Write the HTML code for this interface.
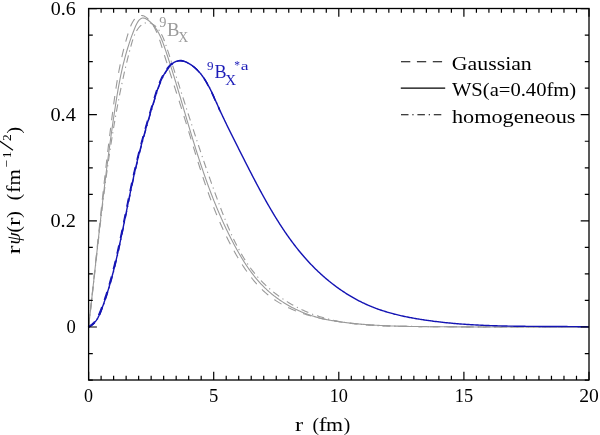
<!DOCTYPE html>
<html><head><meta charset="utf-8"><style>html,body{margin:0;padding:0;background:#fff;}svg{display:block;will-change:transform;}</style></head>
<body>
<svg width="600" height="435" viewBox="0 0 600 435">
<defs><clipPath id="cl" clipPathUnits="userSpaceOnUse"><rect x="80" y="0" width="140" height="335"/></clipPath></defs>
<rect width="600" height="435" fill="#fff"/>
<path d="M88.60,327.00 L88.71,326.01 L88.82,325.03 L88.93,324.04 L89.05,323.05 L89.16,322.07 L89.27,321.08 L89.38,320.09 L89.49,319.10 L89.60,318.12 L89.71,317.13 L89.82,316.14 L89.93,315.15 L90.04,314.16 L90.15,313.17 L90.26,312.19 L90.37,311.20 L90.49,310.21 L90.60,309.22 L90.71,308.23 L90.82,307.24 L90.93,306.25 L91.04,305.26 L91.15,304.27 L91.26,303.28 L91.36,302.28 L91.47,301.29 L91.58,300.30 L91.69,299.31 L91.80,298.32 L91.91,297.33 L92.02,296.34 L92.13,295.34 L92.24,294.35 L92.35,293.36 L92.46,292.37 L92.57,291.37 L92.68,290.38 L92.79,289.39 L92.90,288.39 L93.01,287.40 L93.12,286.41 L93.23,285.41 L93.33,284.42 L93.44,283.43 L93.55,282.43 L93.66,281.44 L93.77,280.44 L93.88,279.45 L93.99,278.46 L94.10,277.46 L94.21,276.47 L94.32,275.47 L94.43,274.48 L94.54,273.48 L94.65,272.49 L94.76,271.49 L94.86,270.50 L94.97,269.50 L95.08,268.51 L95.19,267.51 L95.30,266.52 L95.41,265.52 L95.52,264.52 L95.63,263.53 L95.74,262.53 L95.85,261.54 L95.96,260.54 L96.07,259.54 L96.18,258.55 L96.29,257.55 L96.40,256.56 L96.51,255.56 L96.62,254.56 L96.73,253.57 L96.84,252.57 L96.95,251.57 L97.06,250.58 L97.17,249.58 L97.28,248.58 L97.40,247.59 L97.51,246.59 L97.62,245.59 L97.73,244.59 L97.84,243.60 L97.95,242.60 L98.06,241.60 L98.17,240.61 L98.29,239.61 L98.40,238.61 L98.51,237.62 L98.62,236.62 L98.73,235.62 L98.85,234.62 L98.96,233.63 L99.07,232.63 L99.18,231.63 L99.30,230.63 L99.41,229.64 L99.52,228.64 L99.63,227.64 L99.75,226.65 L99.86,225.65 L99.97,224.65 L100.09,223.65 L100.20,222.66 L100.32,221.66 L100.43,220.66 L100.54,219.67 L100.66,218.67 L100.77,217.67 L100.89,216.67 L101.00,215.68 L101.12,214.68 L101.23,213.68 L101.35,212.69 L101.47,211.69 L101.58,210.69 L101.70,209.70 L101.81,208.70 L101.93,207.70 L102.05,206.71 L102.16,205.71 L102.28,204.71 L102.40,203.72 L102.51,202.72 L102.63,201.72 L102.75,200.73 L102.87,199.73 L102.99,198.74 L103.11,197.74 L103.22,196.74 L103.34,195.75 L103.46,194.75 L103.58,193.76 L103.70,192.76 L103.82,191.76 L103.94,190.77 L104.06,189.77 L104.18,188.78 L104.30,187.78 L104.42,186.79 L104.54,185.79 L104.67,184.80 L104.79,183.80 L104.91,182.81 L105.03,181.81 L105.15,180.82 L105.28,179.83 L105.40,178.83 L105.52,177.84 L105.65,176.84 L105.77,175.85 L105.90,174.86 L106.02,173.86 L106.14,172.87 L106.27,171.88 L106.40,170.88 L106.52,169.89 L106.65,168.90 L106.77,167.90 L106.90,166.91 L107.03,165.92 L107.15,164.93 L107.28,163.93 L107.41,162.94 L107.54,161.95 L107.66,160.96 L107.79,159.97 L107.92,158.98 L108.05,157.98 L108.18,156.99 L108.31,156.00 L108.44,155.01 L108.57,154.02 L108.70,153.03 L108.83,152.04 L108.96,151.05 L109.10,150.06 L109.23,149.07 L109.36,148.08 L109.49,147.09 L109.63,146.10 L109.76,145.12 L109.89,144.13 L110.03,143.14 L110.16,142.15 L110.30,141.16 L110.43,140.17 L110.57,139.19 L110.71,138.20 L110.84,137.21 L110.98,136.23 L111.12,135.24 L111.25,134.25 L111.39,133.27 L111.53,132.28 L111.67,131.29 L111.81,130.31 L111.95,129.32 L112.09,128.34 L112.23,127.35 L112.37,126.37 L112.51,125.39 L112.65,124.40 L112.79,123.42 L112.93,122.43 L113.08,121.45 L113.22,120.47 L113.36,119.48 L113.51,118.50 L113.65,117.52 L113.80,116.54 L113.94,115.56 L114.09,114.57 L114.23,113.59 L114.38,112.61 L114.53,111.63 L114.68,110.65 L114.82,109.67 L114.97,108.69 L115.12,107.71 L115.27,106.73 L115.42,105.75 L115.57,104.77 L115.72,103.80 L115.88,102.82 L116.03,101.84 L116.18,100.86 L116.34,99.88 L116.50,98.91 L116.65,97.93 L116.81,96.95 L116.97,95.97 L117.13,95.00 L117.30,94.02 L117.46,93.04 L117.63,92.07 L117.79,91.09 L117.96,90.11 L118.13,89.14 L118.31,88.16 L118.48,87.18 L118.66,86.21 L118.84,85.23 L119.02,84.25 L119.20,83.28 L119.38,82.30 L119.57,81.33 L119.76,80.35 L119.95,79.37 L120.15,78.40 L120.34,77.42 L120.54,76.44 L120.74,75.46 L120.95,74.49 L121.16,73.51 L121.37,72.53 L121.58,71.56 L121.79,70.58 L122.01,69.60 L122.23,68.62 L122.46,67.64 L122.69,66.67 L122.92,65.69 L123.15,64.71 L123.39,63.73 L123.63,62.75 L123.88,61.77 L124.12,60.79 L124.38,59.81 L124.63,58.83 L124.89,57.85 L125.15,56.87 L125.42,55.89 L125.69,54.90 L125.97,53.92 L126.25,52.94 L126.53,51.96 L126.82,50.97 L127.11,49.99 L127.40,49.01 L127.70,48.02 L128.01,47.04 L128.32,46.05 L128.63,45.07 L128.95,44.08 L129.27,43.09 L129.60,42.11 L129.93,41.12 L130.27,40.13 L130.61,39.14 L130.96,38.15 L131.31,37.16 L131.67,36.17 L132.03,35.18 L132.40,34.19 L132.78,33.20 L133.15,32.20 L133.54,31.21 L133.93,30.22 L134.32,29.22 L134.72,28.23 L135.13,27.24 L135.55,26.27 L135.98,25.32 L136.42,24.40 L136.87,23.51 L137.34,22.66 L137.82,21.87 L138.32,21.13 L138.84,20.45 L139.38,19.84 L139.95,19.30 L140.54,18.85 L141.15,18.49 L141.79,18.23 L142.46,18.07 L143.15,18.02 L143.88,18.09 L144.64,18.28 L145.43,18.58 L146.23,18.97 L147.04,19.45 L147.85,19.99 L148.65,20.60 L149.45,21.24 L150.22,21.92 L150.97,22.61 L151.69,23.33 L152.39,24.06 L153.07,24.81 L153.72,25.57 L154.35,26.35 L154.96,27.15 L155.54,27.96 L156.11,28.78 L156.66,29.62 L157.19,30.47 L157.71,31.34 L158.20,32.21 L158.68,33.10 L159.15,33.99 L159.60,34.90 L160.04,35.81 L160.46,36.73 L160.88,37.66 L161.28,38.60 L161.67,39.54 L162.05,40.49 L162.43,41.45 L162.79,42.41 L163.15,43.37 L163.50,44.34 L163.85,45.30 L164.19,46.28 L164.53,47.25 L164.86,48.22 L165.19,49.19 L165.52,50.16 L165.85,51.14 L166.18,52.11 L166.50,53.08 L166.82,54.05 L167.14,55.02 L167.47,55.99 L167.78,56.95 L168.10,57.92 L168.42,58.89 L168.73,59.85 L169.05,60.82 L169.36,61.78 L169.67,62.75 L169.98,63.71 L170.29,64.68 L170.59,65.64 L170.90,66.60 L171.21,67.56 L171.51,68.53 L171.81,69.49 L172.11,70.45 L172.41,71.41 L172.71,72.37 L173.01,73.33 L173.31,74.29 L173.61,75.25 L173.90,76.20 L174.20,77.16 L174.49,78.12 L174.79,79.08 L175.08,80.03 L175.37,80.99 L175.66,81.95 L175.95,82.90 L176.24,83.86 L176.53,84.81 L176.82,85.77 L177.11,86.72 L177.39,87.68 L177.68,88.63 L177.96,89.59 L178.25,90.54 L178.54,91.50 L178.82,92.45 L179.10,93.40 L179.39,94.35 L179.67,95.31 L179.95,96.26 L180.24,97.21 L180.52,98.17 L180.80,99.12 L181.08,100.07 L181.36,101.02 L181.64,101.97 L181.92,102.93 L182.21,103.88 L182.49,104.83 L182.77,105.78 L183.05,106.73 L183.33,107.68 L183.61,108.64 L183.89,109.59 L184.17,110.54 L184.45,111.49 L184.73,112.44 L185.01,113.39 L185.29,114.34 L185.57,115.30 L185.85,116.25 L186.14,117.20 L186.42,118.15 L186.70,119.10 L186.98,120.05 L187.26,121.01 L187.55,121.96 L187.83,122.91 L188.11,123.86 L188.40,124.82 L188.68,125.77 L188.97,126.72 L189.25,127.67 L189.54,128.63 L189.82,129.58 L190.11,130.53 L190.40,131.48 L190.68,132.44 L190.97,133.39 L191.26,134.34 L191.55,135.29 L191.84,136.25 L192.13,137.20 L192.42,138.15 L192.71,139.10 L193.01,140.05 L193.30,141.01 L193.59,141.96 L193.89,142.91 L194.18,143.86 L194.48,144.81 L194.77,145.77 L195.07,146.72 L195.37,147.67 L195.67,148.62 L195.97,149.57 L196.27,150.52 L196.57,151.47 L196.87,152.42 L197.18,153.37 L197.48,154.32 L197.78,155.27 L198.09,156.22 L198.40,157.17 L198.71,158.12 L199.01,159.07 L199.32,160.02 L199.63,160.97 L199.95,161.91 L200.26,162.86 L200.57,163.81 L200.89,164.76 L201.20,165.70 L201.52,166.65 L201.84,167.60 L202.16,168.54 L202.48,169.49 L202.80,170.43 L203.13,171.38 L203.45,172.32 L203.78,173.27 L204.10,174.21 L204.43,175.15 L204.76,176.10 L205.09,177.04 L205.42,177.98 L205.76,178.92 L206.09,179.87 L206.43,180.81 L206.77,181.75 L207.10,182.69 L207.44,183.63 L207.79,184.56 L208.13,185.50 L208.47,186.44 L208.82,187.38 L209.17,188.32 L209.52,189.25 L209.87,190.19 L210.22,191.12 L210.58,192.06 L210.93,192.99 L211.29,193.93 L211.65,194.86 L212.01,195.79 L212.37,196.72 L212.73,197.65 L213.10,198.59 L213.47,199.52 L213.83,200.45 L214.21,201.37 L214.58,202.30 L214.95,203.23 L215.33,204.16 L215.71,205.08 L216.09,206.01 L216.47,206.93 L216.85,207.86 L217.24,208.78 L217.62,209.70 L218.01,210.62 L218.40,211.55 L218.80,212.47 L219.19,213.39 L219.59,214.31 L219.99,215.22 L220.39,216.14 L220.79,217.06 L221.20,217.97 L221.60,218.89 L222.01,219.80 L222.42,220.72 L222.84,221.63 L223.25,222.54 L223.67,223.45 L224.09,224.36 L224.51,225.27 L224.93,226.18 L225.36,227.09 L225.79,227.99 L226.22,228.90 L226.65,229.80 L227.09,230.71 L227.53,231.61 L227.97,232.51 L228.41,233.41 L228.85,234.31 L229.30,235.21 L229.75,236.11 L230.20,237.01 L230.66,237.90 L231.11,238.80 L231.57,239.69 L232.03,240.59 L232.50,241.48 L232.96,242.37 L233.43,243.26 L233.91,244.15 L234.38,245.04 L234.86,245.92 L235.34,246.81 L235.82,247.69 L236.30,248.58 L236.79,249.46 L237.28,250.34 L237.78,251.22 L238.27,252.09 L238.77,252.97 L239.28,253.84 L239.78,254.71 L240.29,255.58 L240.81,256.44 L241.32,257.31 L241.84,258.17 L242.37,259.03 L242.90,259.88 L243.43,260.74 L243.96,261.59 L244.50,262.43 L245.05,263.28 L245.60,264.12 L246.15,264.95 L246.70,265.79 L247.27,266.62 L247.83,267.45 L248.40,268.27 L248.98,269.09 L249.55,269.90 L250.14,270.72 L250.73,271.52 L251.32,272.33 L251.92,273.12 L252.52,273.92 L253.13,274.71 L253.74,275.49 L254.36,276.27 L254.99,277.05 L255.62,277.82 L256.25,278.59 L256.89,279.35 L257.54,280.10 L258.19,280.85 L258.85,281.59 L259.51,282.33 L260.18,283.07 L260.85,283.79 L261.53,284.52 L262.22,285.23 L262.91,285.94 L263.61,286.64 L264.32,287.34 L265.03,288.03 L265.75,288.72 L266.47,289.40 L267.21,290.07 L267.94,290.73 L268.68,291.39 L269.43,292.05 L270.19,292.69 L270.94,293.33 L271.71,293.97 L272.48,294.59 L273.26,295.21 L274.04,295.83 L274.82,296.44 L275.62,297.04 L276.41,297.63 L277.22,298.22 L278.02,298.80 L278.84,299.37 L279.65,299.94 L280.48,300.50 L281.30,301.06 L282.13,301.60 L282.97,302.15 L283.81,302.68 L284.66,303.21 L285.51,303.73 L286.36,304.24 L287.22,304.75 L288.08,305.25 L288.95,305.74 L289.82,306.22 L290.70,306.70 L291.58,307.17 L292.46,307.64 L293.35,308.10 L294.24,308.55 L295.13,308.99 L296.03,309.43 L296.93,309.86 L297.84,310.28 L298.74,310.69 L299.66,311.10 L300.57,311.50 L301.49,311.89 L302.41,312.28 L303.34,312.66 L304.27,313.03 L305.20,313.39 L306.13,313.75 L307.07,314.10 L308.01,314.44 L308.95,314.77 L309.89,315.10 L310.84,315.42 L311.79,315.73 L312.74,316.03 L313.70,316.33 L314.66,316.62 L315.62,316.90 L316.58,317.17 L317.54,317.44 L318.51,317.70 L319.47,317.95 L320.44,318.19 L321.42,318.43 L322.39,318.66 L323.36,318.89 L324.34,319.10 L325.32,319.31 L326.30,319.52 L327.28,319.72 L328.26,319.91 L329.25,320.10 L330.23,320.29 L331.22,320.47 L332.20,320.64 L333.19,320.81 L334.18,320.97 L335.17,321.13 L336.16,321.29 L337.15,321.44 L338.15,321.58 L339.14,321.73 L340.13,321.87 L341.13,322.00 L342.12,322.13 L343.12,322.26 L344.11,322.39 L345.11,322.51 L346.10,322.64 L347.10,322.75 L348.09,322.87 L349.09,322.98 L350.09,323.10 L351.08,323.20 L352.08,323.31 L353.07,323.42 L354.07,323.52 L355.07,323.62 L356.06,323.72 L357.06,323.81 L358.06,323.90 L359.05,324.00 L360.05,324.08 L361.05,324.17 L362.05,324.26 L363.04,324.34 L364.04,324.42 L365.04,324.50 L366.03,324.58 L367.03,324.65 L368.03,324.72 L369.03,324.80 L370.03,324.87 L371.02,324.93 L372.02,325.00 L373.02,325.06 L374.02,325.12 L375.02,325.19 L376.01,325.24 L377.01,325.30 L378.01,325.36 L379.01,325.41 L380.01,325.46 L381.01,325.51 L382.00,325.56 L383.00,325.61 L384.00,325.66 L385.00,325.70 L386.00,325.75 L387.00,325.79 L388.00,325.83 L389.00,325.87 L389.99,325.91 L390.99,325.95 L391.99,325.98 L392.99,326.02 L393.99,326.05 L394.99,326.08 L395.99,326.11 L396.99,326.14 L397.99,326.17 L398.99,326.20 L399.99,326.23 L400.99,326.25 L401.99,326.28 L402.99,326.30 L403.99,326.32 L404.99,326.35 L405.99,326.37 L406.98,326.39 L407.98,326.41 L408.98,326.43 L409.98,326.45 L410.98,326.46 L411.98,326.48 L412.98,326.50 L413.98,326.51 L414.98,326.53 L415.98,326.54 L416.98,326.55 L417.98,326.57 L418.98,326.58 L419.98,326.59 L420.98,326.60 L421.98,326.61 L422.98,326.63 L423.98,326.64 L424.98,326.65 L425.98,326.66 L426.98,326.67 L427.98,326.68 L428.98,326.68 L429.98,326.69 L430.98,326.70 L431.98,326.71 L432.98,326.72 L433.98,326.73 L434.98,326.74 L435.98,326.74 L436.98,326.75 L437.98,326.76 L438.98,326.77 L439.98,326.77 L440.98,326.78 L441.98,326.79 L442.98,326.80 L443.98,326.80 L444.98,326.81 L445.99,326.81 L446.99,326.82 L447.99,326.83 L448.99,326.83 L449.99,326.84 L450.99,326.84 L451.99,326.85 L452.99,326.86 L453.99,326.86 L454.99,326.87 L455.99,326.87 L456.99,326.88 L457.99,326.88 L458.99,326.89 L459.99,326.89 L460.99,326.89 L461.99,326.90 L462.99,326.90 L463.99,326.91 L464.99,326.91 L465.99,326.91 L466.99,326.92 L467.99,326.92 L468.99,326.92 L469.99,326.93 L470.99,326.93 L471.99,326.93 L472.99,326.94 L473.99,326.94 L474.99,326.94 L475.99,326.95 L476.99,326.95 L477.99,326.95 L478.99,326.95 L479.99,326.96 L480.99,326.96 L481.99,326.96 L482.99,326.96 L483.99,326.96 L484.99,326.97 L485.99,326.97 L486.99,326.97 L487.99,326.97 L488.99,326.97 L489.99,326.97 L490.99,326.98 L491.99,326.98 L492.99,326.98 L493.99,326.98 L494.99,326.98 L495.99,326.98 L496.99,326.98 L497.99,326.98 L498.99,326.98 L499.99,326.98 L500.99,326.99 L501.99,326.99 L502.99,326.99 L503.99,326.99 L504.99,326.99 L505.99,326.99 L506.99,326.99 L507.99,326.99 L508.99,326.99 L509.99,326.99 L510.99,326.99 L511.99,326.99 L512.99,326.99 L513.99,326.99 L514.99,326.99 L515.99,326.99 L516.99,326.99 L517.99,326.99 L518.99,326.99 L519.99,326.99 L520.99,326.99 L521.99,326.99 L522.99,326.99 L523.99,326.99 L524.99,326.99 L525.99,326.99 L526.99,326.99 L527.99,326.99 L528.99,326.99 L529.99,326.99 L530.99,326.99 L531.99,326.99 L532.99,326.99 L534.00,326.99 L535.00,326.99 L536.00,326.99 L537.00,326.98 L538.00,326.98 L539.00,326.98 L540.00,326.98 L541.00,326.98 L542.00,326.98 L543.00,326.98 L544.00,326.98 L545.00,326.98 L546.00,326.98 L547.00,326.98 L548.00,326.98 L549.00,326.98 L550.00,326.98 L551.00,326.98 L552.00,326.98 L553.00,326.98 L554.00,326.98 L555.00,326.98 L556.00,326.98 L557.00,326.98 L558.00,326.98 L559.00,326.98 L560.00,326.98 L561.00,326.98 L562.00,326.98 L563.00,326.98 L564.00,326.98 L565.00,326.98 L566.00,326.98 L567.00,326.98 L568.00,326.98 L569.00,326.98 L570.00,326.98 L571.00,326.98 L572.00,326.98 L573.00,326.98 L574.00,326.98 L575.00,326.98 L576.00,326.99 L577.00,326.99 L578.00,326.99 L579.00,326.99 L580.00,326.99 L581.00,326.99 L582.00,326.99 L583.00,326.99 L584.00,326.99 L585.00,326.99 L586.00,327.00 L587.00,327.00 L588.00,327.00 L589.00,327.00" stroke="#9a9a9a" stroke-width="1.1" fill="none"/><path d="M88.60,327.00 L88.71,326.02 L88.82,325.04 L88.93,324.06 L89.03,323.08 L89.14,322.10 L89.25,321.11 L89.36,320.13 L89.47,319.15 L89.58,318.16 L89.68,317.18 L89.79,316.20 L89.90,315.21 L90.01,314.23 L90.12,313.24 L90.22,312.26 L90.33,311.27 L90.44,310.28 L90.55,309.30 L90.65,308.31 L90.76,307.32 L90.87,306.33 L90.98,305.34 L91.08,304.36 L91.19,303.37 L91.30,302.38 L91.40,301.39 L91.51,300.40 L91.62,299.41 L91.72,298.42 L91.83,297.43 L91.94,296.43 L92.04,295.44 L92.15,294.45 L92.26,293.46 L92.36,292.47 L92.47,291.47 L92.58,290.48 L92.68,289.49 L92.79,288.49 L92.89,287.50 L93.00,286.50 L93.11,285.51 L93.21,284.51 L93.32,283.52 L93.42,282.52 L93.53,281.53 L93.64,280.53 L93.74,279.54 L93.85,278.54 L93.95,277.54 L94.06,276.55 L94.17,275.55 L94.27,274.55 L94.38,273.56 L94.48,272.56 L94.59,271.56 L94.69,270.56 L94.80,269.56 L94.91,268.57 L95.01,267.57 L95.12,266.57 L95.22,265.57 L95.33,264.57 L95.44,263.57 L95.54,262.57 L95.65,261.57 L95.75,260.57 L95.86,259.57 L95.96,258.57 L96.07,257.57 L96.18,256.57 L96.28,255.57 L96.39,254.57 L96.49,253.57 L96.60,252.57 L96.71,251.57 L96.81,250.57 L96.92,249.57 L97.02,248.56 L97.13,247.56 L97.24,246.56 L97.34,245.56 L97.45,244.56 L97.55,243.56 L97.66,242.55 L97.77,241.55 L97.87,240.55 L97.98,239.55 L98.09,238.55 L98.19,237.54 L98.30,236.54 L98.41,235.54 L98.51,234.54 L98.62,233.53 L98.73,232.53 L98.83,231.53 L98.94,230.53 L99.05,229.52 L99.16,228.52 L99.26,227.52 L99.37,226.52 L99.48,225.51 L99.58,224.51 L99.69,223.51 L99.80,222.51 L99.91,221.50 L100.01,220.50 L100.12,219.50 L100.23,218.50 L100.34,217.49 L100.45,216.49 L100.55,215.49 L100.66,214.49 L100.77,213.48 L100.88,212.48 L100.99,211.48 L101.10,210.48 L101.20,209.47 L101.31,208.47 L101.42,207.47 L101.53,206.47 L101.64,205.47 L101.75,204.46 L101.86,203.46 L101.97,202.46 L102.08,201.46 L102.19,200.46 L102.30,199.46 L102.41,198.45 L102.52,197.45 L102.63,196.45 L102.74,195.45 L102.85,194.45 L102.96,193.45 L103.07,192.45 L103.18,191.45 L103.29,190.45 L103.40,189.45 L103.51,188.45 L103.63,187.45 L103.74,186.45 L103.85,185.45 L103.96,184.45 L104.07,183.45 L104.18,182.45 L104.30,181.45 L104.41,180.46 L104.52,179.46 L104.63,178.46 L104.75,177.46 L104.86,176.46 L104.97,175.47 L105.09,174.47 L105.20,173.47 L105.31,172.47 L105.43,171.48 L105.54,170.48 L105.66,169.48 L105.77,168.49 L105.88,167.49 L106.00,166.50 L106.11,165.50 L106.23,164.51 L106.34,163.51 L106.46,162.52 L106.58,161.52 L106.69,160.53 L106.81,159.54 L106.92,158.54 L107.04,157.55 L107.16,156.56 L107.27,155.56 L107.39,154.57 L107.51,153.58 L107.62,152.59 L107.74,151.60 L107.86,150.61 L107.98,149.61 L108.10,148.62 L108.21,147.63 L108.33,146.64 L108.45,145.66 L108.57,144.67 L108.69,143.68 L108.81,142.69 L108.93,141.70 L109.05,140.71 L109.17,139.73 L109.29,138.74 L109.41,137.75 L109.53,136.77 L109.65,135.78 L109.77,134.80 L109.90,133.81 L110.02,132.83 L110.14,131.84 L110.26,130.86 L110.38,129.87 L110.51,128.89 L110.63,127.91 L110.75,126.93 L110.88,125.94 L111.00,124.96 L111.12,123.98 L111.25,123.00 L111.37,122.02 L111.50,121.04 L111.62,120.06 L111.75,119.08 L111.87,118.11 L112.00,117.13 L112.12,116.15 L112.25,115.17 L112.38,114.20 L112.50,113.22 L112.63,112.25 L112.76,111.27 L112.89,110.30 L113.02,109.32 L113.14,108.35 L113.27,107.38 L113.40,106.40 L113.53,105.43 L113.66,104.46 L113.79,103.49 L113.92,102.52 L114.06,101.54 L114.19,100.57 L114.32,99.60 L114.46,98.63 L114.59,97.66 L114.73,96.69 L114.87,95.72 L115.01,94.74 L115.15,93.77 L115.29,92.80 L115.43,91.83 L115.58,90.86 L115.73,89.88 L115.87,88.91 L116.02,87.94 L116.17,86.96 L116.33,85.99 L116.48,85.01 L116.64,84.03 L116.79,83.06 L116.95,82.08 L117.12,81.10 L117.28,80.12 L117.45,79.14 L117.62,78.16 L117.79,77.18 L117.96,76.20 L118.13,75.21 L118.31,74.23 L118.49,73.24 L118.68,72.25 L118.86,71.26 L119.05,70.27 L119.24,69.28 L119.44,68.29 L119.63,67.30 L119.83,66.30 L120.03,65.31 L120.24,64.31 L120.45,63.31 L120.66,62.31 L120.88,61.30 L121.09,60.30 L121.32,59.29 L121.54,58.28 L121.77,57.27 L122.00,56.26 L122.24,55.25 L122.48,54.23 L122.72,53.21 L122.97,52.19 L123.22,51.17 L123.47,50.15 L123.73,49.12 L123.99,48.09 L124.26,47.06 L124.53,46.03 L124.81,45.00 L125.09,43.96 L125.37,42.92 L125.66,41.88 L125.95,40.83 L126.25,39.78 L126.55,38.73 L126.85,37.68 L127.16,36.62 L127.48,35.57 L127.80,34.50 L128.13,33.44 L128.46,32.38 L128.80,31.33 L129.15,30.28 L129.50,29.25 L129.87,28.23 L130.25,27.22 L130.65,26.24 L131.05,25.28 L131.48,24.34 L131.91,23.44 L132.37,22.57 L132.84,21.73 L133.33,20.93 L133.84,20.18 L134.38,19.46 L134.93,18.80 L135.51,18.18 L136.11,17.62 L136.74,17.12 L137.39,16.67 L138.08,16.29 L138.78,15.98 L139.52,15.73 L140.26,15.57 L141.02,15.49 L141.77,15.50 L142.53,15.61 L143.28,15.81 L144.02,16.09 L144.76,16.45 L145.49,16.88 L146.20,17.37 L146.90,17.92 L147.59,18.51 L148.26,19.14 L148.92,19.81 L149.55,20.50 L150.17,21.21 L150.76,21.94 L151.34,22.69 L151.89,23.46 L152.43,24.24 L152.96,25.04 L153.46,25.86 L153.95,26.70 L154.43,27.55 L154.89,28.41 L155.34,29.29 L155.77,30.18 L156.19,31.08 L156.60,31.99 L157.00,32.92 L157.39,33.85 L157.77,34.79 L158.14,35.75 L158.50,36.71 L158.85,37.67 L159.20,38.65 L159.53,39.63 L159.87,40.61 L160.19,41.60 L160.52,42.59 L160.83,43.59 L161.15,44.58 L161.46,45.58 L161.77,46.58 L162.08,47.58 L162.39,48.58 L162.69,49.58 L163.00,50.58 L163.31,51.57 L163.62,52.57 L163.93,53.56 L164.23,54.55 L164.54,55.54 L164.85,56.52 L165.16,57.51 L165.47,58.49 L165.78,59.48 L166.09,60.46 L166.40,61.44 L166.71,62.42 L167.02,63.39 L167.33,64.37 L167.64,65.34 L167.95,66.32 L168.26,67.29 L168.57,68.26 L168.88,69.23 L169.19,70.20 L169.50,71.16 L169.81,72.13 L170.12,73.09 L170.43,74.06 L170.74,75.02 L171.05,75.98 L171.36,76.94 L171.66,77.90 L171.97,78.86 L172.28,79.82 L172.59,80.78 L172.90,81.73 L173.21,82.69 L173.52,83.64 L173.83,84.60 L174.14,85.55 L174.45,86.50 L174.76,87.46 L175.06,88.41 L175.37,89.36 L175.68,90.31 L175.99,91.26 L176.29,92.21 L176.60,93.16 L176.91,94.10 L177.21,95.05 L177.52,96.00 L177.83,96.94 L178.13,97.89 L178.44,98.84 L178.74,99.78 L179.04,100.73 L179.35,101.67 L179.65,102.62 L179.96,103.56 L180.26,104.51 L180.56,105.45 L180.86,106.39 L181.17,107.34 L181.47,108.28 L181.77,109.23 L182.07,110.17 L182.37,111.11 L182.67,112.06 L182.97,113.00 L183.26,113.94 L183.56,114.89 L183.86,115.83 L184.16,116.78 L184.45,117.72 L184.75,118.67 L185.04,119.61 L185.34,120.56 L185.63,121.50 L185.93,122.45 L186.22,123.39 L186.51,124.34 L186.80,125.29 L187.09,126.23 L187.38,127.18 L187.68,128.13 L187.97,129.08 L188.26,130.02 L188.55,130.97 L188.84,131.92 L189.12,132.87 L189.41,133.82 L189.70,134.77 L189.99,135.71 L190.28,136.66 L190.57,137.61 L190.86,138.56 L191.15,139.51 L191.43,140.46 L191.72,141.41 L192.01,142.36 L192.30,143.31 L192.59,144.26 L192.88,145.21 L193.17,146.16 L193.46,147.11 L193.75,148.06 L194.04,149.01 L194.33,149.96 L194.62,150.91 L194.91,151.86 L195.20,152.81 L195.49,153.76 L195.78,154.71 L196.07,155.65 L196.37,156.60 L196.66,157.55 L196.96,158.50 L197.25,159.45 L197.55,160.40 L197.84,161.35 L198.14,162.30 L198.44,163.25 L198.73,164.20 L199.03,165.15 L199.33,166.09 L199.63,167.04 L199.94,167.99 L200.24,168.94 L200.54,169.88 L200.84,170.83 L201.15,171.78 L201.46,172.73 L201.76,173.67 L202.07,174.62 L202.38,175.57 L202.69,176.51 L203.00,177.46 L203.32,178.40 L203.63,179.35 L203.94,180.29 L204.26,181.24 L204.58,182.18 L204.90,183.12 L205.22,184.07 L205.54,185.01 L205.86,185.95 L206.19,186.89 L206.51,187.84 L206.84,188.78 L207.17,189.72 L207.50,190.66 L207.83,191.60 L208.17,192.54 L208.50,193.48 L208.84,194.42 L209.18,195.36 L209.52,196.29 L209.86,197.23 L210.21,198.17 L210.55,199.11 L210.90,200.04 L211.25,200.98 L211.60,201.91 L211.96,202.85 L212.31,203.78 L212.67,204.71 L213.03,205.65 L213.39,206.58 L213.76,207.51 L214.12,208.44 L214.49,209.37 L214.86,210.30 L215.23,211.23 L215.61,212.16 L215.98,213.09 L216.36,214.01 L216.75,214.94 L217.13,215.87 L217.52,216.79 L217.90,217.72 L218.30,218.64 L218.69,219.56 L219.08,220.48 L219.48,221.41 L219.88,222.33 L220.29,223.25 L220.69,224.17 L221.10,225.09 L221.52,226.00 L221.93,226.92 L222.35,227.84 L222.77,228.75 L223.19,229.67 L223.61,230.58 L224.04,231.49 L224.47,232.41 L224.91,233.32 L225.35,234.23 L225.79,235.14 L226.23,236.05 L226.67,236.95 L227.12,237.86 L227.58,238.77 L228.03,239.67 L228.49,240.57 L228.95,241.48 L229.42,242.38 L229.88,243.28 L230.35,244.18 L230.83,245.08 L231.31,245.98 L231.79,246.88 L232.27,247.77 L232.76,248.67 L233.25,249.56 L233.75,250.46 L234.25,251.35 L234.75,252.24 L235.25,253.13 L235.76,254.02 L236.27,254.91 L236.79,255.79 L237.31,256.68 L237.83,257.56 L238.36,258.44 L238.89,259.33 L239.43,260.20 L239.97,261.08 L240.51,261.96 L241.06,262.83 L241.61,263.70 L242.16,264.57 L242.72,265.43 L243.29,266.29 L243.85,267.15 L244.43,268.00 L245.00,268.85 L245.58,269.70 L246.17,270.55 L246.76,271.38 L247.35,272.22 L247.95,273.05 L248.56,273.88 L249.16,274.70 L249.78,275.51 L250.39,276.33 L251.02,277.13 L251.64,277.93 L252.28,278.73 L252.91,279.52 L253.56,280.30 L254.20,281.08 L254.86,281.85 L255.52,282.62 L256.18,283.37 L256.85,284.13 L257.52,284.87 L258.20,285.61 L258.88,286.34 L259.57,287.06 L260.27,287.78 L260.97,288.49 L261.68,289.19 L262.39,289.88 L263.11,290.56 L263.83,291.24 L264.56,291.90 L265.29,292.56 L266.03,293.21 L266.78,293.85 L267.53,294.48 L268.29,295.10 L269.06,295.71 L269.83,296.32 L270.60,296.91 L271.39,297.50 L272.17,298.08 L272.96,298.65 L273.76,299.21 L274.57,299.76 L275.37,300.30 L276.19,300.84 L277.01,301.36 L277.83,301.88 L278.66,302.39 L279.49,302.90 L280.33,303.39 L281.17,303.88 L282.02,304.36 L282.87,304.83 L283.73,305.29 L284.59,305.75 L285.46,306.20 L286.33,306.64 L287.20,307.07 L288.08,307.50 L288.96,307.92 L289.85,308.33 L290.74,308.74 L291.63,309.14 L292.53,309.53 L293.43,309.91 L294.34,310.29 L295.25,310.66 L296.16,311.03 L297.08,311.38 L298.00,311.74 L298.92,312.08 L299.85,312.42 L300.78,312.75 L301.71,313.08 L302.65,313.40 L303.59,313.72 L304.53,314.02 L305.47,314.33 L306.42,314.62 L307.37,314.92 L308.32,315.20 L309.28,315.48 L310.24,315.76 L311.20,316.03 L312.16,316.29 L313.13,316.55 L314.09,316.80 L315.06,317.05 L316.03,317.29 L317.01,317.53 L317.98,317.77 L318.96,317.99 L319.94,318.22 L320.92,318.44 L321.90,318.65 L322.89,318.86 L323.87,319.07 L324.86,319.27 L325.85,319.47 L326.84,319.66 L327.83,319.85 L328.82,320.03 L329.82,320.21 L330.81,320.39 L331.81,320.56 L332.80,320.73 L333.80,320.90 L334.80,321.06 L335.80,321.22 L336.80,321.38 L337.80,321.53 L338.80,321.68 L339.80,321.82 L340.80,321.96 L341.80,322.10 L342.81,322.24 L343.81,322.37 L344.81,322.50 L345.81,322.63 L346.81,322.75 L347.82,322.87 L348.82,322.99 L349.82,323.11 L350.82,323.22 L351.82,323.33 L352.82,323.44 L353.83,323.55 L354.83,323.65 L355.83,323.75 L356.83,323.85 L357.83,323.95 L358.83,324.04 L359.83,324.14 L360.83,324.22 L361.84,324.31 L362.84,324.40 L363.84,324.48 L364.84,324.56 L365.84,324.64 L366.84,324.72 L367.84,324.79 L368.84,324.86 L369.84,324.93 L370.84,325.00 L371.84,325.07 L372.84,325.13 L373.84,325.20 L374.85,325.26 L375.85,325.32 L376.85,325.37 L377.85,325.43 L378.85,325.48 L379.85,325.54 L380.85,325.59 L381.85,325.64 L382.85,325.68 L383.85,325.73 L384.85,325.77 L385.85,325.82 L386.85,325.86 L387.85,325.90 L388.85,325.93 L389.85,325.97 L390.85,326.01 L391.85,326.04 L392.85,326.07 L393.85,326.11 L394.85,326.14 L395.85,326.17 L396.85,326.19 L397.85,326.22 L398.85,326.25 L399.85,326.27 L400.85,326.30 L401.85,326.32 L402.85,326.34 L403.85,326.36 L404.85,326.38 L405.85,326.40 L406.85,326.42 L407.85,326.44 L408.85,326.45 L409.85,326.47 L410.85,326.48 L411.85,326.50 L412.85,326.51 L413.85,326.53 L414.85,326.54 L415.85,326.55 L416.85,326.56 L417.85,326.57 L418.85,326.58 L419.85,326.59 L420.85,326.60 L421.85,326.61 L422.85,326.62 L423.85,326.63 L424.85,326.64 L425.85,326.65 L426.85,326.65 L427.85,326.66 L428.85,326.67 L429.85,326.68 L430.85,326.68 L431.85,326.69 L432.85,326.70 L433.85,326.70 L434.85,326.71 L435.85,326.72 L436.85,326.72 L437.85,326.73 L438.85,326.74 L439.85,326.74 L440.85,326.75 L441.85,326.75 L442.85,326.76 L443.85,326.77 L444.85,326.77 L445.85,326.78 L446.85,326.78 L447.86,326.79 L448.86,326.79 L449.86,326.80 L450.86,326.81 L451.86,326.81 L452.86,326.82 L453.86,326.82 L454.86,326.83 L455.86,326.83 L456.86,326.83 L457.86,326.84 L458.86,326.84 L459.86,326.85 L460.87,326.85 L461.87,326.86 L462.87,326.86 L463.87,326.87 L464.87,326.87 L465.87,326.87 L466.87,326.88 L467.87,326.88 L468.87,326.89 L469.87,326.89 L470.88,326.89 L471.88,326.90 L472.88,326.90 L473.88,326.90 L474.88,326.91 L475.88,326.91 L476.88,326.91 L477.88,326.92 L478.88,326.92 L479.89,326.92 L480.89,326.92 L481.89,326.93 L482.89,326.93 L483.89,326.93 L484.89,326.94 L485.89,326.94 L486.89,326.94 L487.90,326.94 L488.90,326.95 L489.90,326.95 L490.90,326.95 L491.90,326.95 L492.90,326.96 L493.90,326.96 L494.90,326.96 L495.91,326.96 L496.91,326.96 L497.91,326.97 L498.91,326.97 L499.91,326.97 L500.91,326.97 L501.91,326.97 L502.91,326.97 L503.92,326.98 L504.92,326.98 L505.92,326.98 L506.92,326.98 L507.92,326.98 L508.92,326.98 L509.92,326.98 L510.93,326.99 L511.93,326.99 L512.93,326.99 L513.93,326.99 L514.93,326.99 L515.93,326.99 L516.93,326.99 L517.93,326.99 L518.94,326.99 L519.94,326.99 L520.94,327.00 L521.94,327.00 L522.94,327.00 L523.94,327.00 L524.94,327.00 L525.95,327.00 L526.95,327.00 L527.95,327.00 L528.95,327.00 L529.95,327.00 L530.95,327.00 L531.95,327.00 L532.95,327.00 L533.96,327.00 L534.96,327.00 L535.96,327.00 L536.96,327.00 L537.96,327.00 L538.96,327.00 L539.96,327.00 L540.96,327.00 L541.96,327.00 L542.97,327.01 L543.97,327.01 L544.97,327.01 L545.97,327.01 L546.97,327.01 L547.97,327.01 L548.97,327.01 L549.97,327.01 L550.97,327.01 L551.98,327.01 L552.98,327.01 L553.98,327.01 L554.98,327.01 L555.98,327.01 L556.98,327.01 L557.98,327.01 L558.98,327.00 L559.98,327.00 L560.98,327.00 L561.98,327.00 L562.99,327.00 L563.99,327.00 L564.99,327.00 L565.99,327.00 L566.99,327.00 L567.99,327.00 L568.99,327.00 L569.99,327.00 L570.99,327.00 L571.99,327.00 L572.99,327.00 L573.99,327.00 L574.99,327.00 L575.99,327.00 L576.99,327.00 L578.00,327.00 L579.00,327.00 L580.00,327.00 L581.00,327.00 L582.00,327.00 L583.00,327.00 L584.00,327.00 L585.00,327.00 L586.00,327.00 L587.00,327.00 L588.00,327.00 L589.00,327.00" stroke="#9a9a9a" stroke-width="1.1" fill="none" stroke-dasharray="8.5 7.5"/><path d="M88.60,327.00 L88.72,326.02 L88.83,325.04 L88.95,324.05 L89.06,323.07 L89.18,322.09 L89.30,321.11 L89.41,320.12 L89.53,319.14 L89.64,318.16 L89.75,317.17 L89.87,316.19 L89.98,315.20 L90.10,314.22 L90.21,313.23 L90.32,312.24 L90.44,311.26 L90.55,310.27 L90.66,309.28 L90.78,308.30 L90.89,307.31 L91.00,306.32 L91.12,305.33 L91.23,304.34 L91.34,303.36 L91.45,302.37 L91.57,301.38 L91.68,300.39 L91.79,299.40 L91.90,298.41 L92.01,297.42 L92.12,296.43 L92.24,295.43 L92.35,294.44 L92.46,293.45 L92.57,292.46 L92.68,291.47 L92.79,290.48 L92.90,289.48 L93.02,288.49 L93.13,287.50 L93.24,286.50 L93.35,285.51 L93.46,284.52 L93.57,283.52 L93.68,282.53 L93.79,281.54 L93.90,280.54 L94.01,279.55 L94.12,278.55 L94.24,277.56 L94.35,276.56 L94.46,275.57 L94.57,274.57 L94.68,273.58 L94.79,272.58 L94.90,271.58 L95.01,270.59 L95.12,269.59 L95.23,268.59 L95.34,267.60 L95.46,266.60 L95.57,265.60 L95.68,264.61 L95.79,263.61 L95.90,262.61 L96.01,261.62 L96.12,260.62 L96.23,259.62 L96.35,258.62 L96.46,257.62 L96.57,256.63 L96.68,255.63 L96.79,254.63 L96.91,253.63 L97.02,252.63 L97.13,251.63 L97.24,250.64 L97.36,249.64 L97.47,248.64 L97.58,247.64 L97.69,246.64 L97.81,245.64 L97.92,244.64 L98.03,243.64 L98.15,242.65 L98.26,241.65 L98.38,240.65 L98.49,239.65 L98.60,238.65 L98.72,237.65 L98.83,236.65 L98.95,235.65 L99.06,234.65 L99.18,233.65 L99.29,232.65 L99.41,231.65 L99.53,230.65 L99.64,229.65 L99.76,228.65 L99.87,227.66 L99.99,226.66 L100.11,225.66 L100.23,224.66 L100.34,223.66 L100.46,222.66 L100.58,221.66 L100.70,220.66 L100.82,219.66 L100.94,218.66 L101.05,217.66 L101.17,216.66 L101.29,215.66 L101.41,214.67 L101.53,213.67 L101.65,212.67 L101.78,211.67 L101.90,210.67 L102.02,209.67 L102.14,208.67 L102.26,207.67 L102.38,206.68 L102.51,205.68 L102.63,204.68 L102.75,203.68 L102.88,202.68 L103.00,201.69 L103.13,200.69 L103.25,199.69 L103.38,198.69 L103.50,197.69 L103.63,196.70 L103.76,195.70 L103.88,194.70 L104.01,193.71 L104.14,192.71 L104.27,191.71 L104.39,190.72 L104.52,189.72 L104.65,188.72 L104.78,187.73 L104.91,186.73 L105.04,185.74 L105.17,184.74 L105.30,183.75 L105.44,182.75 L105.57,181.76 L105.70,180.76 L105.83,179.77 L105.97,178.77 L106.10,177.78 L106.24,176.78 L106.37,175.79 L106.51,174.80 L106.64,173.80 L106.78,172.81 L106.92,171.82 L107.05,170.82 L107.19,169.83 L107.33,168.84 L107.47,167.85 L107.61,166.86 L107.75,165.86 L107.89,164.87 L108.03,163.88 L108.17,162.89 L108.31,161.90 L108.46,160.91 L108.60,159.92 L108.74,158.93 L108.89,157.94 L109.03,156.95 L109.18,155.96 L109.33,154.97 L109.47,153.99 L109.62,153.00 L109.77,152.01 L109.92,151.02 L110.06,150.04 L110.21,149.05 L110.36,148.06 L110.51,147.08 L110.67,146.09 L110.82,145.11 L110.97,144.12 L111.12,143.14 L111.28,142.15 L111.43,141.17 L111.59,140.18 L111.74,139.20 L111.90,138.22 L112.06,137.23 L112.22,136.25 L112.37,135.27 L112.53,134.29 L112.69,133.31 L112.85,132.33 L113.01,131.35 L113.18,130.37 L113.34,129.39 L113.50,128.41 L113.67,127.43 L113.83,126.45 L114.00,125.47 L114.16,124.49 L114.33,123.52 L114.50,122.54 L114.67,121.56 L114.83,120.59 L115.00,119.61 L115.17,118.64 L115.35,117.66 L115.52,116.69 L115.69,115.71 L115.86,114.74 L116.04,113.77 L116.21,112.79 L116.39,111.82 L116.57,110.85 L116.74,109.88 L116.92,108.91 L117.10,107.94 L117.28,106.97 L117.46,106.00 L117.64,105.03 L117.82,104.06 L118.01,103.10 L118.19,102.13 L118.38,101.16 L118.56,100.20 L118.75,99.23 L118.94,98.26 L119.12,97.30 L119.31,96.34 L119.50,95.37 L119.69,94.41 L119.88,93.45 L120.08,92.48 L120.27,91.52 L120.46,90.56 L120.66,89.60 L120.86,88.64 L121.05,87.67 L121.25,86.71 L121.45,85.75 L121.66,84.79 L121.86,83.83 L122.06,82.86 L122.27,81.90 L122.47,80.93 L122.68,79.97 L122.89,79.00 L123.10,78.03 L123.32,77.07 L123.53,76.10 L123.75,75.13 L123.97,74.15 L124.18,73.18 L124.41,72.21 L124.63,71.23 L124.85,70.25 L125.08,69.27 L125.31,68.29 L125.54,67.31 L125.77,66.32 L126.01,65.33 L126.25,64.34 L126.48,63.35 L126.73,62.36 L126.97,61.36 L127.22,60.36 L127.46,59.36 L127.71,58.36 L127.97,57.35 L128.22,56.34 L128.48,55.32 L128.74,54.31 L129.00,53.29 L129.27,52.27 L129.54,51.24 L129.81,50.21 L130.08,49.18 L130.36,48.14 L130.64,47.10 L130.92,46.06 L131.20,45.02 L131.50,43.98 L131.80,42.94 L132.11,41.91 L132.42,40.88 L132.75,39.86 L133.09,38.86 L133.43,37.86 L133.80,36.88 L134.17,35.91 L134.56,34.97 L134.97,34.04 L135.39,33.13 L135.84,32.24 L136.30,31.38 L136.78,30.55 L137.28,29.74 L137.80,28.97 L138.35,28.22 L138.92,27.51 L139.52,26.83 L140.14,26.19 L140.79,25.59 L141.47,25.03 L142.18,24.51 L142.92,24.04 L143.69,23.61 L144.49,23.23 L145.33,22.90 L146.19,22.64 L147.07,22.48 L147.96,22.45 L148.85,22.55 L149.73,22.77 L150.59,23.09 L151.43,23.47 L152.24,23.89 L153.03,24.35 L153.78,24.84 L154.50,25.38 L155.20,25.94 L155.87,26.54 L156.52,27.17 L157.14,27.83 L157.74,28.52 L158.32,29.24 L158.88,29.98 L159.41,30.75 L159.93,31.54 L160.43,32.35 L160.91,33.19 L161.37,34.05 L161.82,34.92 L162.26,35.81 L162.68,36.72 L163.09,37.64 L163.48,38.58 L163.87,39.52 L164.24,40.48 L164.61,41.45 L164.97,42.43 L165.32,43.41 L165.67,44.40 L166.01,45.39 L166.35,46.39 L166.68,47.39 L167.01,48.39 L167.34,49.39 L167.67,50.39 L168.00,51.39 L168.33,52.38 L168.66,53.38 L168.99,54.37 L169.31,55.36 L169.64,56.36 L169.97,57.35 L170.29,58.34 L170.61,59.32 L170.94,60.31 L171.26,61.30 L171.58,62.28 L171.90,63.27 L172.22,64.25 L172.54,65.23 L172.86,66.22 L173.18,67.20 L173.50,68.18 L173.82,69.16 L174.14,70.13 L174.45,71.11 L174.77,72.09 L175.08,73.06 L175.40,74.04 L175.71,75.01 L176.03,75.98 L176.34,76.95 L176.66,77.93 L176.97,78.90 L177.28,79.86 L177.59,80.83 L177.90,81.80 L178.22,82.77 L178.53,83.73 L178.84,84.70 L179.15,85.66 L179.46,86.63 L179.77,87.59 L180.08,88.55 L180.38,89.51 L180.69,90.47 L181.00,91.43 L181.31,92.39 L181.62,93.35 L181.92,94.31 L182.23,95.27 L182.54,96.22 L182.84,97.18 L183.15,98.14 L183.46,99.09 L183.76,100.04 L184.07,101.00 L184.37,101.95 L184.68,102.90 L184.99,103.85 L185.29,104.81 L185.60,105.76 L185.90,106.71 L186.21,107.66 L186.51,108.60 L186.81,109.55 L187.12,110.50 L187.42,111.45 L187.73,112.39 L188.03,113.34 L188.34,114.29 L188.64,115.23 L188.95,116.18 L189.25,117.12 L189.56,118.07 L189.86,119.01 L190.17,119.95 L190.47,120.89 L190.77,121.84 L191.08,122.78 L191.38,123.72 L191.69,124.66 L191.99,125.60 L192.30,126.54 L192.61,127.48 L192.91,128.42 L193.22,129.36 L193.52,130.30 L193.83,131.24 L194.13,132.18 L194.44,133.12 L194.75,134.05 L195.06,134.99 L195.36,135.93 L195.67,136.86 L195.98,137.80 L196.29,138.74 L196.59,139.67 L196.90,140.61 L197.21,141.55 L197.52,142.48 L197.83,143.42 L198.14,144.35 L198.45,145.29 L198.76,146.22 L199.07,147.16 L199.38,148.09 L199.69,149.03 L200.01,149.96 L200.32,150.89 L200.63,151.83 L200.95,152.76 L201.26,153.70 L201.57,154.63 L201.89,155.56 L202.20,156.50 L202.52,157.43 L202.84,158.37 L203.15,159.30 L203.47,160.23 L203.79,161.17 L204.11,162.10 L204.43,163.03 L204.75,163.97 L205.07,164.90 L205.39,165.84 L205.71,166.77 L206.03,167.70 L206.35,168.64 L206.68,169.57 L207.00,170.50 L207.32,171.44 L207.65,172.37 L207.98,173.31 L208.30,174.24 L208.63,175.18 L208.96,176.11 L209.29,177.05 L209.62,177.98 L209.95,178.92 L210.28,179.85 L210.61,180.79 L210.94,181.72 L211.28,182.66 L211.61,183.60 L211.95,184.53 L212.28,185.47 L212.62,186.41 L212.96,187.34 L213.30,188.28 L213.64,189.22 L213.98,190.16 L214.32,191.09 L214.66,192.03 L215.00,192.97 L215.35,193.91 L215.69,194.85 L216.04,195.79 L216.39,196.73 L216.73,197.67 L217.08,198.61 L217.43,199.55 L217.79,200.50 L218.14,201.44 L218.49,202.38 L218.84,203.32 L219.20,204.27 L219.56,205.21 L219.91,206.15 L220.27,207.10 L220.63,208.04 L220.99,208.99 L221.36,209.94 L221.72,210.88 L222.08,211.83 L222.45,212.78 L222.82,213.72 L223.19,214.67 L223.56,215.61 L223.93,216.56 L224.31,217.51 L224.68,218.45 L225.06,219.40 L225.44,220.34 L225.82,221.28 L226.21,222.23 L226.59,223.17 L226.98,224.11 L227.37,225.05 L227.77,225.99 L228.16,226.93 L228.56,227.87 L228.97,228.81 L229.37,229.74 L229.78,230.67 L230.19,231.61 L230.60,232.54 L231.01,233.47 L231.43,234.40 L231.85,235.32 L232.28,236.25 L232.71,237.17 L233.14,238.09 L233.57,239.01 L234.01,239.92 L234.45,240.84 L234.90,241.75 L235.35,242.66 L235.80,243.57 L236.25,244.47 L236.71,245.37 L237.18,246.27 L237.65,247.17 L238.12,248.06 L238.59,248.95 L239.07,249.84 L239.56,250.73 L240.05,251.61 L240.54,252.49 L241.04,253.36 L241.54,254.24 L242.05,255.11 L242.56,255.97 L243.07,256.83 L243.60,257.69 L244.12,258.55 L244.65,259.40 L245.19,260.24 L245.73,261.09 L246.27,261.93 L246.83,262.76 L247.38,263.59 L247.94,264.42 L248.51,265.24 L249.08,266.06 L249.66,266.87 L250.25,267.68 L250.83,268.49 L251.43,269.29 L252.03,270.08 L252.64,270.87 L253.25,271.66 L253.87,272.44 L254.49,273.21 L255.13,273.99 L255.76,274.75 L256.41,275.51 L257.06,276.26 L257.71,277.01 L258.37,277.76 L259.04,278.50 L259.72,279.23 L260.40,279.96 L261.08,280.68 L261.78,281.40 L262.47,282.11 L263.18,282.81 L263.89,283.51 L264.60,284.21 L265.32,284.90 L266.05,285.58 L266.78,286.26 L267.52,286.93 L268.26,287.60 L269.00,288.26 L269.76,288.92 L270.51,289.57 L271.28,290.21 L272.04,290.85 L272.82,291.48 L273.59,292.11 L274.37,292.73 L275.16,293.35 L275.95,293.96 L276.75,294.56 L277.55,295.16 L278.35,295.76 L279.16,296.34 L279.97,296.92 L280.79,297.50 L281.61,298.07 L282.44,298.63 L283.27,299.19 L284.10,299.74 L284.94,300.29 L285.78,300.83 L286.63,301.36 L287.48,301.89 L288.33,302.41 L289.19,302.92 L290.05,303.43 L290.91,303.94 L291.78,304.43 L292.65,304.93 L293.52,305.41 L294.40,305.89 L295.28,306.36 L296.16,306.83 L297.05,307.29 L297.94,307.74 L298.83,308.19 L299.73,308.63 L300.63,309.07 L301.53,309.50 L302.43,309.92 L303.34,310.34 L304.24,310.75 L305.16,311.15 L306.07,311.55 L306.99,311.94 L307.90,312.32 L308.82,312.70 L309.75,313.07 L310.67,313.44 L311.60,313.79 L312.53,314.15 L313.46,314.49 L314.39,314.83 L315.33,315.16 L316.26,315.49 L317.20,315.81 L318.14,316.12 L319.08,316.43 L320.02,316.73 L320.97,317.02 L321.91,317.31 L322.86,317.59 L323.81,317.86 L324.76,318.13 L325.71,318.39 L326.67,318.65 L327.62,318.90 L328.58,319.15 L329.53,319.39 L330.49,319.62 L331.45,319.85 L332.42,320.07 L333.38,320.29 L334.34,320.50 L335.31,320.71 L336.28,320.91 L337.24,321.11 L338.21,321.30 L339.18,321.49 L340.16,321.67 L341.13,321.84 L342.10,322.02 L343.08,322.18 L344.05,322.35 L345.03,322.50 L346.01,322.66 L346.99,322.81 L347.97,322.95 L348.95,323.09 L349.93,323.23 L350.92,323.36 L351.90,323.49 L352.89,323.61 L353.87,323.73 L354.86,323.85 L355.85,323.96 L356.84,324.07 L357.83,324.17 L358.82,324.28 L359.81,324.37 L360.80,324.47 L361.79,324.56 L362.79,324.65 L363.78,324.73 L364.77,324.81 L365.77,324.89 L366.77,324.97 L367.76,325.04 L368.76,325.11 L369.76,325.18 L370.76,325.24 L371.76,325.30 L372.76,325.36 L373.76,325.42 L374.76,325.47 L375.76,325.53 L376.76,325.57 L377.76,325.62 L378.76,325.67 L379.77,325.71 L380.77,325.75 L381.77,325.79 L382.78,325.83 L383.78,325.86 L384.78,325.90 L385.79,325.93 L386.79,325.96 L387.80,325.99 L388.80,326.01 L389.81,326.04 L390.81,326.06 L391.82,326.09 L392.83,326.11 L393.83,326.13 L394.84,326.15 L395.84,326.17 L396.85,326.19 L397.86,326.21 L398.86,326.22 L399.87,326.24 L400.88,326.25 L401.88,326.27 L402.89,326.28 L403.89,326.30 L404.90,326.31 L405.91,326.33 L406.91,326.34 L407.92,326.35 L408.92,326.37 L409.93,326.38 L410.93,326.39 L411.94,326.40 L412.94,326.42 L413.95,326.43 L414.95,326.44 L415.95,326.45 L416.96,326.46 L417.96,326.48 L418.97,326.49 L419.97,326.50 L420.97,326.51 L421.98,326.52 L422.98,326.53 L423.98,326.54 L424.99,326.55 L425.99,326.56 L426.99,326.57 L428.00,326.58 L429.00,326.59 L430.00,326.60 L431.00,326.61 L432.01,326.62 L433.01,326.63 L434.01,326.64 L435.01,326.65 L436.01,326.66 L437.02,326.67 L438.02,326.68 L439.02,326.68 L440.02,326.69 L441.02,326.70 L442.02,326.71 L443.02,326.72 L444.02,326.73 L445.03,326.73 L446.03,326.74 L447.03,326.75 L448.03,326.76 L449.03,326.76 L450.03,326.77 L451.03,326.78 L452.03,326.78 L453.03,326.79 L454.03,326.80 L455.03,326.80 L456.03,326.81 L457.03,326.82 L458.03,326.82 L459.03,326.83 L460.03,326.83 L461.03,326.84 L462.03,326.85 L463.03,326.85 L464.03,326.86 L465.03,326.86 L466.03,326.87 L467.03,326.87 L468.03,326.88 L469.03,326.88 L470.02,326.89 L471.02,326.89 L472.02,326.90 L473.02,326.90 L474.02,326.91 L475.02,326.91 L476.02,326.91 L477.02,326.92 L478.02,326.92 L479.01,326.93 L480.01,326.93 L481.01,326.93 L482.01,326.94 L483.01,326.94 L484.01,326.95 L485.01,326.95 L486.01,326.95 L487.00,326.95 L488.00,326.96 L489.00,326.96 L490.00,326.96 L491.00,326.97 L492.00,326.97 L492.99,326.97 L493.99,326.97 L494.99,326.98 L495.99,326.98 L496.99,326.98 L497.99,326.98 L498.98,326.99 L499.98,326.99 L500.98,326.99 L501.98,326.99 L502.98,326.99 L503.98,327.00 L504.97,327.00 L505.97,327.00 L506.97,327.00 L507.97,327.00 L508.97,327.00 L509.97,327.01 L510.96,327.01 L511.96,327.01 L512.96,327.01 L513.96,327.01 L514.96,327.01 L515.96,327.01 L516.95,327.01 L517.95,327.02 L518.95,327.02 L519.95,327.02 L520.95,327.02 L521.95,327.02 L522.95,327.02 L523.94,327.02 L524.94,327.02 L525.94,327.02 L526.94,327.02 L527.94,327.02 L528.94,327.02 L529.94,327.02 L530.94,327.02 L531.94,327.02 L532.93,327.02 L533.93,327.02 L534.93,327.02 L535.93,327.02 L536.93,327.02 L537.93,327.02 L538.93,327.02 L539.93,327.02 L540.93,327.02 L541.93,327.02 L542.93,327.02 L543.93,327.02 L544.93,327.02 L545.93,327.02 L546.93,327.02 L547.93,327.02 L548.93,327.02 L549.93,327.02 L550.93,327.02 L551.93,327.02 L552.93,327.02 L553.93,327.02 L554.93,327.02 L555.93,327.02 L556.93,327.02 L557.93,327.02 L558.93,327.02 L559.93,327.02 L560.93,327.02 L561.93,327.02 L562.94,327.01 L563.94,327.01 L564.94,327.01 L565.94,327.01 L566.94,327.01 L567.94,327.01 L568.94,327.01 L569.95,327.01 L570.95,327.01 L571.95,327.01 L572.95,327.01 L573.96,327.01 L574.96,327.01 L575.96,327.01 L576.96,327.01 L577.97,327.00 L578.97,327.00 L579.97,327.00 L580.97,327.00 L581.98,327.00 L582.98,327.00 L583.99,327.00 L584.99,327.00 L585.99,327.00 L587.00,327.00 L588.00,327.00 L589.00,327.00" stroke="#9a9a9a" stroke-width="1.1" fill="none" stroke-dasharray="7.5 4 1.2 4"/><path d="M88.60,327.00 L89.50,326.56 L90.36,326.07 L91.18,325.54 L91.96,324.98 L92.71,324.37 L93.41,323.73 L94.09,323.05 L94.73,322.35 L95.34,321.61 L95.92,320.85 L96.48,320.06 L97.01,319.24 L97.51,318.40 L98.00,317.55 L98.46,316.67 L98.91,315.78 L99.33,314.87 L99.75,313.95 L100.15,313.02 L100.54,312.08 L100.91,311.13 L101.28,310.18 L101.65,309.22 L102.00,308.27 L102.36,307.31 L102.71,306.35 L103.06,305.40 L103.40,304.44 L103.74,303.48 L104.07,302.53 L104.41,301.57 L104.74,300.61 L105.06,299.66 L105.38,298.70 L105.70,297.74 L106.02,296.79 L106.33,295.83 L106.64,294.87 L106.95,293.91 L107.25,292.96 L107.55,292.00 L107.85,291.04 L108.14,290.08 L108.44,289.13 L108.72,288.17 L109.01,287.21 L109.29,286.25 L109.57,285.29 L109.85,284.33 L110.13,283.37 L110.40,282.42 L110.67,281.46 L110.94,280.50 L111.20,279.54 L111.47,278.58 L111.73,277.62 L111.99,276.65 L112.24,275.69 L112.50,274.73 L112.75,273.77 L113.00,272.81 L113.25,271.85 L113.49,270.88 L113.74,269.92 L113.98,268.96 L114.22,267.99 L114.46,267.03 L114.69,266.06 L114.93,265.10 L115.16,264.13 L115.39,263.17 L115.62,262.20 L115.85,261.23 L116.08,260.27 L116.31,259.30 L116.53,258.33 L116.75,257.36 L116.98,256.39 L117.20,255.42 L117.42,254.45 L117.63,253.48 L117.85,252.51 L118.07,251.54 L118.28,250.57 L118.50,249.59 L118.71,248.62 L118.92,247.65 L119.13,246.67 L119.34,245.70 L119.55,244.72 L119.76,243.74 L119.97,242.77 L120.18,241.79 L120.39,240.81 L120.59,239.83 L120.80,238.85 L121.01,237.87 L121.21,236.89 L121.42,235.91 L121.62,234.93 L121.83,233.95 L122.03,232.97 L122.23,231.99 L122.43,231.00 L122.64,230.02 L122.84,229.04 L123.04,228.05 L123.24,227.07 L123.44,226.08 L123.64,225.10 L123.84,224.11 L124.04,223.13 L124.24,222.14 L124.44,221.16 L124.64,220.17 L124.84,219.19 L125.04,218.20 L125.24,217.21 L125.44,216.23 L125.64,215.24 L125.84,214.25 L126.04,213.27 L126.24,212.28 L126.44,211.29 L126.64,210.31 L126.84,209.32 L127.04,208.33 L127.24,207.35 L127.44,206.36 L127.64,205.37 L127.84,204.39 L128.04,203.40 L128.24,202.41 L128.44,201.43 L128.64,200.44 L128.84,199.46 L129.05,198.47 L129.25,197.49 L129.45,196.50 L129.66,195.52 L129.86,194.53 L130.06,193.55 L130.27,192.56 L130.47,191.58 L130.68,190.60 L130.88,189.61 L131.09,188.63 L131.30,187.65 L131.51,186.67 L131.72,185.69 L131.92,184.71 L132.13,183.73 L132.35,182.75 L132.56,181.77 L132.77,180.79 L132.98,179.81 L133.19,178.83 L133.41,177.85 L133.62,176.88 L133.84,175.90 L134.06,174.93 L134.28,173.95 L134.49,172.98 L134.71,172.01 L134.93,171.03 L135.16,170.06 L135.38,169.09 L135.60,168.12 L135.83,167.15 L136.05,166.18 L136.28,165.21 L136.51,164.25 L136.74,163.28 L136.97,162.31 L137.20,161.35 L137.43,160.38 L137.67,159.42 L137.90,158.46 L138.14,157.50 L138.37,156.54 L138.61,155.58 L138.85,154.62 L139.09,153.66 L139.34,152.70 L139.58,151.75 L139.83,150.79 L140.07,149.84 L140.32,148.88 L140.57,147.93 L140.82,146.97 L141.07,146.02 L141.32,145.06 L141.57,144.11 L141.83,143.16 L142.08,142.20 L142.34,141.25 L142.59,140.30 L142.85,139.35 L143.11,138.39 L143.37,137.44 L143.63,136.49 L143.90,135.54 L144.16,134.59 L144.43,133.63 L144.69,132.68 L144.96,131.73 L145.23,130.77 L145.49,129.82 L145.76,128.87 L146.04,127.91 L146.31,126.96 L146.58,126.00 L146.85,125.04 L147.13,124.09 L147.40,123.13 L147.68,122.17 L147.96,121.21 L148.24,120.26 L148.52,119.30 L148.80,118.34 L149.08,117.37 L149.36,116.41 L149.64,115.45 L149.93,114.48 L150.21,113.52 L150.50,112.55 L150.79,111.59 L151.07,110.62 L151.36,109.65 L151.65,108.68 L151.94,107.70 L152.23,106.73 L152.52,105.76 L152.82,104.78 L153.11,103.80 L153.40,102.82 L153.70,101.84 L154.00,100.86 L154.29,99.88 L154.59,98.89 L154.89,97.91 L155.19,96.92 L155.49,95.93 L155.80,94.95 L156.11,93.96 L156.42,92.97 L156.74,91.99 L157.06,91.01 L157.39,90.02 L157.72,89.05 L158.06,88.07 L158.41,87.10 L158.77,86.13 L159.13,85.16 L159.50,84.20 L159.88,83.24 L160.27,82.29 L160.67,81.35 L161.08,80.41 L161.50,79.47 L161.93,78.55 L162.38,77.63 L162.84,76.72 L163.31,75.81 L163.79,74.92 L164.29,74.03 L164.80,73.15 L165.33,72.28 L165.87,71.42 L166.43,70.58 L167.01,69.74 L167.60,68.91 L168.21,68.10 L168.84,67.31 L169.49,66.54 L170.15,65.80 L170.83,65.09 L171.52,64.42 L172.24,63.79 L172.97,63.20 L173.71,62.67 L174.48,62.20 L175.25,61.78 L176.05,61.43 L176.86,61.15 L177.69,60.95 L178.53,60.81 L179.39,60.75 L180.25,60.75 L181.13,60.82 L182.01,60.94 L182.89,61.12 L183.78,61.35 L184.67,61.63 L185.55,61.95 L186.43,62.32 L187.31,62.72 L188.18,63.16 L189.04,63.63 L189.88,64.13 L190.71,64.65 L191.53,65.20 L192.33,65.76 L193.11,66.35 L193.88,66.95 L194.63,67.57 L195.37,68.21 L196.09,68.87 L196.80,69.54 L197.49,70.23 L198.17,70.93 L198.84,71.65 L199.49,72.38 L200.13,73.13 L200.76,73.89 L201.37,74.67 L201.98,75.46 L202.57,76.26 L203.15,77.07 L203.72,77.89 L204.28,78.73 L204.83,79.57 L205.37,80.43 L205.91,81.29 L206.43,82.17 L206.95,83.05 L207.45,83.94 L207.95,84.84 L208.44,85.74 L208.93,86.65 L209.41,87.57 L209.88,88.49 L210.35,89.42 L210.81,90.36 L211.26,91.29 L211.71,92.23 L212.16,93.18 L212.60,94.12 L213.04,95.07 L213.48,96.02 L213.91,96.98 L214.34,97.93 L214.77,98.88 L215.19,99.84 L215.62,100.79 L216.04,101.74 L216.46,102.69 L216.88,103.64 L217.30,104.58 L217.73,105.53 L218.15,106.47 L218.57,107.40 L218.99,108.33 L219.42,109.26 L219.84,110.19 L220.27,111.12 L220.69,112.04 L221.12,112.96 L221.54,113.87 L221.97,114.78 L222.40,115.70 L222.82,116.60 L223.25,117.51 L223.68,118.42 L224.11,119.32 L224.54,120.22 L224.97,121.12 L225.40,122.01 L225.83,122.91 L226.26,123.80 L226.69,124.69 L227.13,125.58 L227.56,126.47 L227.99,127.35 L228.42,128.24 L228.86,129.12 L229.29,130.01 L229.73,130.89 L230.16,131.77 L230.60,132.65 L231.03,133.53 L231.47,134.41 L231.91,135.29 L232.35,136.17 L232.78,137.04 L233.22,137.92 L233.66,138.80 L234.10,139.67 L234.54,140.55 L234.98,141.42 L235.42,142.30 L235.86,143.18 L236.30,144.05 L236.74,144.93 L237.18,145.81 L237.63,146.68 L238.07,147.56 L238.51,148.44 L238.95,149.32 L239.40,150.20 L239.84,151.08 L240.29,151.96 L240.73,152.85 L241.18,153.73 L241.62,154.61 L242.07,155.50 L242.52,156.38 L242.96,157.27 L243.41,158.15 L243.86,159.04 L244.31,159.93 L244.76,160.82 L245.21,161.71 L245.66,162.59 L246.11,163.48 L246.56,164.37 L247.02,165.26 L247.47,166.15 L247.92,167.04 L248.38,167.94 L248.83,168.83 L249.29,169.72 L249.75,170.61 L250.21,171.50 L250.66,172.39 L251.12,173.28 L251.58,174.17 L252.04,175.07 L252.51,175.96 L252.97,176.85 L253.43,177.74 L253.90,178.63 L254.36,179.52 L254.83,180.41 L255.30,181.30 L255.77,182.19 L256.24,183.08 L256.71,183.97 L257.18,184.86 L257.65,185.75 L258.13,186.64 L258.60,187.53 L259.08,188.42 L259.55,189.30 L260.03,190.19 L260.51,191.08 L260.99,191.96 L261.47,192.85 L261.96,193.73 L262.44,194.61 L262.93,195.50 L263.41,196.38 L263.90,197.26 L264.39,198.14 L264.88,199.02 L265.37,199.90 L265.87,200.78 L266.36,201.65 L266.86,202.53 L267.35,203.40 L267.85,204.28 L268.35,205.15 L268.85,206.02 L269.36,206.89 L269.86,207.76 L270.37,208.63 L270.88,209.49 L271.39,210.36 L271.90,211.22 L272.41,212.09 L272.92,212.95 L273.44,213.81 L273.96,214.67 L274.48,215.53 L275.00,216.38 L275.52,217.24 L276.05,218.09 L276.58,218.94 L277.10,219.79 L277.64,220.64 L278.17,221.49 L278.70,222.33 L279.24,223.18 L279.78,224.02 L280.32,224.86 L280.87,225.70 L281.41,226.54 L281.96,227.37 L282.51,228.21 L283.06,229.04 L283.62,229.87 L284.17,230.70 L284.73,231.52 L285.29,232.35 L285.86,233.17 L286.43,233.99 L287.00,234.81 L287.57,235.62 L288.14,236.44 L288.72,237.25 L289.30,238.06 L289.88,238.87 L290.46,239.68 L291.05,240.48 L291.64,241.28 L292.23,242.08 L292.83,242.88 L293.43,243.67 L294.03,244.46 L294.63,245.25 L295.24,246.04 L295.85,246.83 L296.46,247.61 L297.08,248.39 L297.70,249.17 L298.32,249.94 L298.95,250.72 L299.58,251.49 L300.21,252.26 L300.84,253.02 L301.48,253.78 L302.12,254.54 L302.77,255.30 L303.41,256.05 L304.06,256.81 L304.72,257.56 L305.38,258.30 L306.04,259.05 L306.70,259.79 L307.37,260.52 L308.04,261.26 L308.72,261.99 L309.40,262.72 L310.08,263.45 L310.76,264.17 L311.45,264.89 L312.15,265.61 L312.84,266.32 L313.54,267.03 L314.25,267.74 L314.96,268.44 L315.67,269.14 L316.39,269.84 L317.11,270.54 L317.83,271.23 L318.56,271.92 L319.29,272.60 L320.02,273.28 L320.76,273.96 L321.51,274.64 L322.25,275.31 L323.00,275.98 L323.76,276.64 L324.52,277.30 L325.28,277.95 L326.04,278.61 L326.81,279.26 L327.58,279.90 L328.36,280.54 L329.14,281.18 L329.92,281.81 L330.70,282.44 L331.49,283.06 L332.29,283.68 L333.08,284.30 L333.88,284.91 L334.69,285.52 L335.49,286.12 L336.30,286.72 L337.11,287.31 L337.93,287.90 L338.75,288.49 L339.57,289.07 L340.40,289.64 L341.23,290.21 L342.06,290.78 L342.89,291.34 L343.73,291.90 L344.57,292.45 L345.42,293.00 L346.26,293.54 L347.12,294.07 L347.97,294.61 L348.82,295.13 L349.68,295.65 L350.55,296.17 L351.41,296.68 L352.28,297.18 L353.15,297.68 L354.02,298.18 L354.90,298.67 L355.78,299.15 L356.66,299.63 L357.54,300.10 L358.43,300.57 L359.32,301.03 L360.21,301.48 L361.11,301.93 L362.00,302.38 L362.90,302.81 L363.81,303.24 L364.71,303.67 L365.62,304.09 L366.53,304.50 L367.44,304.91 L368.36,305.31 L369.27,305.70 L370.19,306.09 L371.12,306.47 L372.04,306.85 L372.97,307.22 L373.90,307.58 L374.83,307.94 L375.76,308.29 L376.69,308.64 L377.63,308.98 L378.57,309.31 L379.51,309.64 L380.46,309.97 L381.40,310.28 L382.35,310.60 L383.30,310.90 L384.25,311.20 L385.20,311.50 L386.15,311.79 L387.11,312.08 L388.07,312.36 L389.03,312.64 L389.99,312.91 L390.95,313.17 L391.91,313.44 L392.88,313.69 L393.84,313.95 L394.81,314.20 L395.78,314.44 L396.75,314.68 L397.72,314.92 L398.69,315.15 L399.67,315.37 L400.64,315.60 L401.62,315.82 L402.60,316.03 L403.57,316.25 L404.55,316.45 L405.53,316.66 L406.51,316.86 L407.50,317.06 L408.48,317.25 L409.46,317.44 L410.45,317.63 L411.43,317.81 L412.42,317.99 L413.40,318.17 L414.39,318.35 L415.37,318.52 L416.36,318.69 L417.35,318.85 L418.34,319.02 L419.33,319.18 L420.32,319.34 L421.30,319.49 L422.29,319.65 L423.28,319.80 L424.27,319.95 L425.26,320.10 L426.25,320.24 L427.24,320.38 L428.24,320.52 L429.23,320.66 L430.22,320.80 L431.21,320.93 L432.20,321.06 L433.19,321.19 L434.18,321.32 L435.18,321.44 L436.17,321.56 L437.16,321.68 L438.15,321.80 L439.15,321.92 L440.14,322.03 L441.13,322.15 L442.13,322.26 L443.12,322.37 L444.11,322.47 L445.11,322.58 L446.10,322.68 L447.09,322.78 L448.09,322.88 L449.08,322.98 L450.08,323.07 L451.07,323.17 L452.07,323.26 L453.06,323.35 L454.06,323.43 L455.05,323.52 L456.05,323.61 L457.04,323.69 L458.04,323.77 L459.04,323.85 L460.03,323.93 L461.03,324.00 L462.03,324.08 L463.02,324.15 L464.02,324.22 L465.02,324.29 L466.01,324.36 L467.01,324.43 L468.01,324.49 L469.00,324.56 L470.00,324.62 L471.00,324.68 L472.00,324.74 L472.99,324.80 L473.99,324.85 L474.99,324.91 L475.99,324.96 L476.99,325.02 L477.98,325.07 L478.98,325.12 L479.98,325.17 L480.98,325.21 L481.98,325.26 L482.98,325.31 L483.98,325.35 L484.98,325.39 L485.98,325.43 L486.97,325.47 L487.97,325.51 L488.97,325.55 L489.97,325.59 L490.97,325.62 L491.97,325.66 L492.97,325.69 L493.97,325.72 L494.97,325.75 L495.97,325.79 L496.97,325.82 L497.97,325.84 L498.97,325.87 L499.97,325.90 L500.97,325.92 L501.97,325.95 L502.97,325.97 L503.97,326.00 L504.97,326.02 L505.97,326.04 L506.97,326.06 L507.97,326.08 L508.97,326.10 L509.98,326.12 L510.98,326.14 L511.98,326.16 L512.98,326.17 L513.98,326.19 L514.98,326.20 L515.98,326.22 L516.98,326.23 L517.98,326.25 L518.98,326.26 L519.98,326.27 L520.99,326.28 L521.99,326.29 L522.99,326.30 L523.99,326.31 L524.99,326.32 L525.99,326.33 L526.99,326.34 L527.99,326.35 L528.99,326.36 L529.99,326.37 L531.00,326.38 L532.00,326.38 L533.00,326.39 L534.00,326.40 L535.00,326.40 L536.00,326.41 L537.00,326.41 L538.00,326.42 L539.00,326.43 L540.01,326.43 L541.01,326.44 L542.01,326.44 L543.01,326.45 L544.01,326.45 L545.01,326.45 L546.01,326.46 L547.01,326.46 L548.01,326.47 L549.01,326.47 L550.02,326.48 L551.02,326.48 L552.02,326.49 L553.02,326.49 L554.02,326.50 L555.02,326.50 L556.02,326.50 L557.02,326.51 L558.02,326.52 L559.02,326.52 L560.02,326.53 L561.02,326.53 L562.02,326.54 L563.02,326.54 L564.02,326.55 L565.02,326.56 L566.02,326.56 L567.02,326.57 L568.02,326.58 L569.02,326.59 L570.02,326.60 L571.02,326.60 L572.02,326.61 L573.02,326.62 L574.02,326.63 L575.02,326.64 L576.02,326.65 L577.02,326.67 L578.02,326.68 L579.01,326.69 L580.01,326.70 L581.01,326.72 L582.01,326.73 L583.01,326.75 L584.01,326.76 L585.01,326.78 L586.00,326.80 L587.00,326.81 L588.00,326.83 L589.00,326.85" stroke="#1414b4" stroke-width="1.4" fill="none"/><path d="M88.60,327.00 L89.50,326.56 L90.36,326.07 L91.18,325.54 L91.96,324.98 L92.71,324.37 L93.41,323.73 L94.09,323.05 L94.73,322.35 L95.34,321.61 L95.92,320.85 L96.48,320.06 L97.01,319.24 L97.51,318.40 L98.00,317.55 L98.46,316.67 L98.91,315.78 L99.33,314.87 L99.75,313.95 L100.15,313.02 L100.54,312.08 L100.91,311.13 L101.28,310.18 L101.65,309.22 L102.00,308.27 L102.36,307.31 L102.71,306.35 L103.06,305.40 L103.40,304.44 L103.74,303.48 L104.07,302.53 L104.41,301.57 L104.74,300.61 L105.06,299.66 L105.38,298.70 L105.70,297.74 L106.02,296.79 L106.33,295.83 L106.64,294.87 L106.95,293.91 L107.25,292.96 L107.55,292.00 L107.85,291.04 L108.14,290.08 L108.44,289.13 L108.72,288.17 L109.01,287.21 L109.29,286.25 L109.57,285.29 L109.85,284.33 L110.13,283.37 L110.40,282.42 L110.67,281.46 L110.94,280.50 L111.20,279.54 L111.47,278.58 L111.73,277.62 L111.99,276.65 L112.24,275.69 L112.50,274.73 L112.75,273.77 L113.00,272.81 L113.25,271.85 L113.49,270.88 L113.74,269.92 L113.98,268.96 L114.22,267.99 L114.46,267.03 L114.69,266.06 L114.93,265.10 L115.16,264.13 L115.39,263.17 L115.62,262.20 L115.85,261.23 L116.08,260.27 L116.31,259.30 L116.53,258.33 L116.75,257.36 L116.98,256.39 L117.20,255.42 L117.42,254.45 L117.63,253.48 L117.85,252.51 L118.07,251.54 L118.28,250.57 L118.50,249.59 L118.71,248.62 L118.92,247.65 L119.13,246.67 L119.34,245.70 L119.55,244.72 L119.76,243.74 L119.97,242.77 L120.18,241.79 L120.39,240.81 L120.59,239.83 L120.80,238.85 L121.01,237.87 L121.21,236.89 L121.42,235.91 L121.62,234.93 L121.83,233.95 L122.03,232.97 L122.23,231.99 L122.43,231.00 L122.64,230.02 L122.84,229.04 L123.04,228.05 L123.24,227.07 L123.44,226.08 L123.64,225.10 L123.84,224.11 L124.04,223.13 L124.24,222.14 L124.44,221.16 L124.64,220.17 L124.84,219.19 L125.04,218.20 L125.24,217.21 L125.44,216.23 L125.64,215.24 L125.84,214.25 L126.04,213.27 L126.24,212.28 L126.44,211.29 L126.64,210.31 L126.84,209.32 L127.04,208.33 L127.24,207.35 L127.44,206.36 L127.64,205.37 L127.84,204.39 L128.04,203.40 L128.24,202.41 L128.44,201.43 L128.64,200.44 L128.84,199.46 L129.05,198.47 L129.25,197.49 L129.45,196.50 L129.66,195.52 L129.86,194.53 L130.06,193.55 L130.27,192.56 L130.47,191.58 L130.68,190.60 L130.88,189.61 L131.09,188.63 L131.30,187.65 L131.51,186.67 L131.72,185.69 L131.92,184.71 L132.13,183.73 L132.35,182.75 L132.56,181.77 L132.77,180.79 L132.98,179.81 L133.19,178.83 L133.41,177.85 L133.62,176.88 L133.84,175.90 L134.06,174.93 L134.28,173.95 L134.49,172.98 L134.71,172.01 L134.93,171.03 L135.16,170.06 L135.38,169.09 L135.60,168.12 L135.83,167.15 L136.05,166.18 L136.28,165.21 L136.51,164.25 L136.74,163.28 L136.97,162.31 L137.20,161.35 L137.43,160.38 L137.67,159.42 L137.90,158.46 L138.14,157.50 L138.37,156.54 L138.61,155.58 L138.85,154.62 L139.09,153.66 L139.34,152.70 L139.58,151.75 L139.83,150.79 L140.07,149.84 L140.32,148.88 L140.57,147.93 L140.82,146.97 L141.07,146.02 L141.32,145.06 L141.57,144.11 L141.83,143.16 L142.08,142.20 L142.34,141.25 L142.59,140.30 L142.85,139.35 L143.11,138.39 L143.37,137.44 L143.63,136.49 L143.90,135.54 L144.16,134.59 L144.43,133.63 L144.69,132.68 L144.96,131.73 L145.23,130.77 L145.49,129.82 L145.76,128.87 L146.04,127.91 L146.31,126.96 L146.58,126.00 L146.85,125.04 L147.13,124.09 L147.40,123.13 L147.68,122.17 L147.96,121.21 L148.24,120.26 L148.52,119.30 L148.80,118.34 L149.08,117.37 L149.36,116.41 L149.64,115.45 L149.93,114.48 L150.21,113.52 L150.50,112.55 L150.79,111.59 L151.07,110.62 L151.36,109.65 L151.65,108.68 L151.94,107.70 L152.23,106.73 L152.52,105.76 L152.82,104.78 L153.11,103.80 L153.40,102.82 L153.70,101.84 L154.00,100.86 L154.29,99.88 L154.59,98.89 L154.89,97.91 L155.19,96.92 L155.49,95.93 L155.80,94.95 L156.11,93.96 L156.42,92.97 L156.74,91.99 L157.06,91.01 L157.39,90.02 L157.72,89.05 L158.06,88.07 L158.41,87.10 L158.77,86.13 L159.13,85.16 L159.50,84.20 L159.88,83.24 L160.27,82.29 L160.67,81.35 L161.08,80.41 L161.50,79.47 L161.93,78.55 L162.38,77.63 L162.84,76.72 L163.31,75.81 L163.79,74.92 L164.29,74.03 L164.80,73.15 L165.33,72.28 L165.87,71.42 L166.43,70.58 L167.01,69.74 L167.60,68.91 L168.21,68.10 L168.84,67.31 L169.49,66.54 L170.15,65.80 L170.83,65.09 L171.52,64.42 L172.24,63.79 L172.97,63.20 L173.71,62.67 L174.48,62.20 L175.25,61.78 L176.05,61.43 L176.86,61.15 L177.69,60.95 L178.53,60.81 L179.39,60.75 L180.25,60.75 L181.13,60.82 L182.01,60.94 L182.89,61.12 L183.78,61.35 L184.67,61.63 L185.55,61.95 L186.43,62.32 L187.31,62.72 L188.18,63.16 L189.04,63.63 L189.88,64.13 L190.71,64.65 L191.53,65.20 L192.33,65.76 L193.11,66.35 L193.88,66.95 L194.63,67.57 L195.37,68.21 L196.09,68.87 L196.80,69.54 L197.49,70.23 L198.17,70.93 L198.84,71.65 L199.49,72.38 L200.13,73.13 L200.76,73.89 L201.37,74.67 L201.98,75.46 L202.57,76.26 L203.15,77.07 L203.72,77.89 L204.28,78.73 L204.83,79.57 L205.37,80.43 L205.91,81.29 L206.43,82.17 L206.95,83.05 L207.45,83.94 L207.95,84.84 L208.44,85.74 L208.93,86.65 L209.41,87.57 L209.88,88.49 L210.35,89.42 L210.81,90.36 L211.26,91.29 L211.71,92.23 L212.16,93.18 L212.60,94.12 L213.04,95.07 L213.48,96.02 L213.91,96.98 L214.34,97.93 L214.77,98.88 L215.19,99.84 L215.62,100.79 L216.04,101.74 L216.46,102.69 L216.88,103.64 L217.30,104.58 L217.73,105.53 L218.15,106.47 L218.57,107.40 L218.99,108.33 L219.42,109.26 L219.84,110.19 L220.27,111.12 L220.69,112.04 L221.12,112.96 L221.54,113.87 L221.97,114.78 L222.40,115.70 L222.82,116.60 L223.25,117.51 L223.68,118.42 L224.11,119.32 L224.54,120.22 L224.97,121.12 L225.40,122.01 L225.83,122.91 L226.26,123.80 L226.69,124.69 L227.13,125.58 L227.56,126.47 L227.99,127.35 L228.42,128.24 L228.86,129.12 L229.29,130.01 L229.73,130.89 L230.16,131.77 L230.60,132.65 L231.03,133.53 L231.47,134.41 L231.91,135.29 L232.35,136.17 L232.78,137.04 L233.22,137.92 L233.66,138.80 L234.10,139.67 L234.54,140.55 L234.98,141.42 L235.42,142.30 L235.86,143.18 L236.30,144.05 L236.74,144.93 L237.18,145.81 L237.63,146.68 L238.07,147.56 L238.51,148.44 L238.95,149.32 L239.40,150.20 L239.84,151.08 L240.29,151.96 L240.73,152.85 L241.18,153.73 L241.62,154.61 L242.07,155.50 L242.52,156.38 L242.96,157.27 L243.41,158.15 L243.86,159.04 L244.31,159.93 L244.76,160.82 L245.21,161.71 L245.66,162.59 L246.11,163.48 L246.56,164.37 L247.02,165.26 L247.47,166.15 L247.92,167.04 L248.38,167.94 L248.83,168.83 L249.29,169.72 L249.75,170.61 L250.21,171.50 L250.66,172.39 L251.12,173.28 L251.58,174.17 L252.04,175.07 L252.51,175.96 L252.97,176.85 L253.43,177.74 L253.90,178.63 L254.36,179.52 L254.83,180.41 L255.30,181.30 L255.77,182.19 L256.24,183.08 L256.71,183.97 L257.18,184.86 L257.65,185.75 L258.13,186.64 L258.60,187.53 L259.08,188.42 L259.55,189.30 L260.03,190.19 L260.51,191.08 L260.99,191.96 L261.47,192.85 L261.96,193.73 L262.44,194.61 L262.93,195.50 L263.41,196.38 L263.90,197.26 L264.39,198.14 L264.88,199.02 L265.37,199.90 L265.87,200.78 L266.36,201.65 L266.86,202.53 L267.35,203.40 L267.85,204.28 L268.35,205.15 L268.85,206.02 L269.36,206.89 L269.86,207.76 L270.37,208.63 L270.88,209.49 L271.39,210.36 L271.90,211.22 L272.41,212.09 L272.92,212.95 L273.44,213.81 L273.96,214.67 L274.48,215.53 L275.00,216.38 L275.52,217.24 L276.05,218.09 L276.58,218.94 L277.10,219.79 L277.64,220.64 L278.17,221.49 L278.70,222.33 L279.24,223.18 L279.78,224.02 L280.32,224.86 L280.87,225.70 L281.41,226.54 L281.96,227.37 L282.51,228.21 L283.06,229.04 L283.62,229.87 L284.17,230.70 L284.73,231.52 L285.29,232.35 L285.86,233.17 L286.43,233.99 L287.00,234.81 L287.57,235.62 L288.14,236.44 L288.72,237.25 L289.30,238.06 L289.88,238.87 L290.46,239.68 L291.05,240.48 L291.64,241.28 L292.23,242.08 L292.83,242.88 L293.43,243.67 L294.03,244.46 L294.63,245.25 L295.24,246.04 L295.85,246.83 L296.46,247.61 L297.08,248.39 L297.70,249.17 L298.32,249.94 L298.95,250.72 L299.58,251.49 L300.21,252.26 L300.84,253.02 L301.48,253.78 L302.12,254.54 L302.77,255.30 L303.41,256.05 L304.06,256.81 L304.72,257.56 L305.38,258.30 L306.04,259.05 L306.70,259.79 L307.37,260.52 L308.04,261.26 L308.72,261.99 L309.40,262.72 L310.08,263.45 L310.76,264.17 L311.45,264.89 L312.15,265.61 L312.84,266.32 L313.54,267.03 L314.25,267.74 L314.96,268.44 L315.67,269.14 L316.39,269.84 L317.11,270.54 L317.83,271.23 L318.56,271.92 L319.29,272.60 L320.02,273.28 L320.76,273.96 L321.51,274.64 L322.25,275.31 L323.00,275.98 L323.76,276.64 L324.52,277.30 L325.28,277.95 L326.04,278.61 L326.81,279.26 L327.58,279.90 L328.36,280.54 L329.14,281.18 L329.92,281.81 L330.70,282.44 L331.49,283.06 L332.29,283.68 L333.08,284.30 L333.88,284.91 L334.69,285.52 L335.49,286.12 L336.30,286.72 L337.11,287.31 L337.93,287.90 L338.75,288.49 L339.57,289.07 L340.40,289.64 L341.23,290.21 L342.06,290.78 L342.89,291.34 L343.73,291.90 L344.57,292.45 L345.42,293.00 L346.26,293.54 L347.12,294.07 L347.97,294.61 L348.82,295.13 L349.68,295.65 L350.55,296.17 L351.41,296.68 L352.28,297.18 L353.15,297.68 L354.02,298.18 L354.90,298.67 L355.78,299.15 L356.66,299.63 L357.54,300.10 L358.43,300.57 L359.32,301.03 L360.21,301.48 L361.11,301.93 L362.00,302.38 L362.90,302.81 L363.81,303.24 L364.71,303.67 L365.62,304.09 L366.53,304.50 L367.44,304.91 L368.36,305.31 L369.27,305.70 L370.19,306.09 L371.12,306.47 L372.04,306.85 L372.97,307.22 L373.90,307.58 L374.83,307.94 L375.76,308.29 L376.69,308.64 L377.63,308.98 L378.57,309.31 L379.51,309.64 L380.46,309.97 L381.40,310.28 L382.35,310.60 L383.30,310.90 L384.25,311.20 L385.20,311.50 L386.15,311.79 L387.11,312.08 L388.07,312.36 L389.03,312.64 L389.99,312.91 L390.95,313.17 L391.91,313.44 L392.88,313.69 L393.84,313.95 L394.81,314.20 L395.78,314.44 L396.75,314.68 L397.72,314.92 L398.69,315.15 L399.67,315.37 L400.64,315.60 L401.62,315.82 L402.60,316.03 L403.57,316.25 L404.55,316.45 L405.53,316.66 L406.51,316.86 L407.50,317.06 L408.48,317.25 L409.46,317.44 L410.45,317.63 L411.43,317.81 L412.42,317.99 L413.40,318.17 L414.39,318.35 L415.37,318.52 L416.36,318.69 L417.35,318.85 L418.34,319.02 L419.33,319.18 L420.32,319.34 L421.30,319.49 L422.29,319.65 L423.28,319.80 L424.27,319.95 L425.26,320.10 L426.25,320.24 L427.24,320.38 L428.24,320.52 L429.23,320.66 L430.22,320.80 L431.21,320.93 L432.20,321.06 L433.19,321.19 L434.18,321.32 L435.18,321.44 L436.17,321.56 L437.16,321.68 L438.15,321.80 L439.15,321.92 L440.14,322.03 L441.13,322.15 L442.13,322.26 L443.12,322.37 L444.11,322.47 L445.11,322.58 L446.10,322.68 L447.09,322.78 L448.09,322.88 L449.08,322.98 L450.08,323.07 L451.07,323.17 L452.07,323.26 L453.06,323.35 L454.06,323.43 L455.05,323.52 L456.05,323.61 L457.04,323.69 L458.04,323.77 L459.04,323.85 L460.03,323.93 L461.03,324.00 L462.03,324.08 L463.02,324.15 L464.02,324.22 L465.02,324.29 L466.01,324.36 L467.01,324.43 L468.01,324.49 L469.00,324.56 L470.00,324.62 L471.00,324.68 L472.00,324.74 L472.99,324.80 L473.99,324.85 L474.99,324.91 L475.99,324.96 L476.99,325.02 L477.98,325.07 L478.98,325.12 L479.98,325.17 L480.98,325.21 L481.98,325.26 L482.98,325.31 L483.98,325.35 L484.98,325.39 L485.98,325.43 L486.97,325.47 L487.97,325.51 L488.97,325.55 L489.97,325.59 L490.97,325.62 L491.97,325.66 L492.97,325.69 L493.97,325.72 L494.97,325.75 L495.97,325.79 L496.97,325.82 L497.97,325.84 L498.97,325.87 L499.97,325.90 L500.97,325.92 L501.97,325.95 L502.97,325.97 L503.97,326.00 L504.97,326.02 L505.97,326.04 L506.97,326.06 L507.97,326.08 L508.97,326.10 L509.98,326.12 L510.98,326.14 L511.98,326.16 L512.98,326.17 L513.98,326.19 L514.98,326.20 L515.98,326.22 L516.98,326.23 L517.98,326.25 L518.98,326.26 L519.98,326.27 L520.99,326.28 L521.99,326.29 L522.99,326.30 L523.99,326.31 L524.99,326.32 L525.99,326.33 L526.99,326.34 L527.99,326.35 L528.99,326.36 L529.99,326.37 L531.00,326.38 L532.00,326.38 L533.00,326.39 L534.00,326.40 L535.00,326.40 L536.00,326.41 L537.00,326.41 L538.00,326.42 L539.00,326.43 L540.01,326.43 L541.01,326.44 L542.01,326.44 L543.01,326.45 L544.01,326.45 L545.01,326.45 L546.01,326.46 L547.01,326.46 L548.01,326.47 L549.01,326.47 L550.02,326.48 L551.02,326.48 L552.02,326.49 L553.02,326.49 L554.02,326.50 L555.02,326.50 L556.02,326.50 L557.02,326.51 L558.02,326.52 L559.02,326.52 L560.02,326.53 L561.02,326.53 L562.02,326.54 L563.02,326.54 L564.02,326.55 L565.02,326.56 L566.02,326.56 L567.02,326.57 L568.02,326.58 L569.02,326.59 L570.02,326.60 L571.02,326.60 L572.02,326.61 L573.02,326.62 L574.02,326.63 L575.02,326.64 L576.02,326.65 L577.02,326.67 L578.02,326.68 L579.01,326.69 L580.01,326.70 L581.01,326.72 L582.01,326.73 L583.01,326.75 L584.01,326.76 L585.01,326.78 L586.00,326.80 L587.00,326.81 L588.00,326.83 L589.00,326.85" stroke="#1414b4" stroke-width="1.2" fill="none" stroke-dasharray="8.5 7.5" transform="translate(-0.6,-0.5)" clip-path="url(#cl)"/><path d="M88.60,327.00 L89.50,326.56 L90.36,326.07 L91.18,325.54 L91.96,324.98 L92.71,324.37 L93.41,323.73 L94.09,323.05 L94.73,322.35 L95.34,321.61 L95.92,320.85 L96.48,320.06 L97.01,319.24 L97.51,318.40 L98.00,317.55 L98.46,316.67 L98.91,315.78 L99.33,314.87 L99.75,313.95 L100.15,313.02 L100.54,312.08 L100.91,311.13 L101.28,310.18 L101.65,309.22 L102.00,308.27 L102.36,307.31 L102.71,306.35 L103.06,305.40 L103.40,304.44 L103.74,303.48 L104.07,302.53 L104.41,301.57 L104.74,300.61 L105.06,299.66 L105.38,298.70 L105.70,297.74 L106.02,296.79 L106.33,295.83 L106.64,294.87 L106.95,293.91 L107.25,292.96 L107.55,292.00 L107.85,291.04 L108.14,290.08 L108.44,289.13 L108.72,288.17 L109.01,287.21 L109.29,286.25 L109.57,285.29 L109.85,284.33 L110.13,283.37 L110.40,282.42 L110.67,281.46 L110.94,280.50 L111.20,279.54 L111.47,278.58 L111.73,277.62 L111.99,276.65 L112.24,275.69 L112.50,274.73 L112.75,273.77 L113.00,272.81 L113.25,271.85 L113.49,270.88 L113.74,269.92 L113.98,268.96 L114.22,267.99 L114.46,267.03 L114.69,266.06 L114.93,265.10 L115.16,264.13 L115.39,263.17 L115.62,262.20 L115.85,261.23 L116.08,260.27 L116.31,259.30 L116.53,258.33 L116.75,257.36 L116.98,256.39 L117.20,255.42 L117.42,254.45 L117.63,253.48 L117.85,252.51 L118.07,251.54 L118.28,250.57 L118.50,249.59 L118.71,248.62 L118.92,247.65 L119.13,246.67 L119.34,245.70 L119.55,244.72 L119.76,243.74 L119.97,242.77 L120.18,241.79 L120.39,240.81 L120.59,239.83 L120.80,238.85 L121.01,237.87 L121.21,236.89 L121.42,235.91 L121.62,234.93 L121.83,233.95 L122.03,232.97 L122.23,231.99 L122.43,231.00 L122.64,230.02 L122.84,229.04 L123.04,228.05 L123.24,227.07 L123.44,226.08 L123.64,225.10 L123.84,224.11 L124.04,223.13 L124.24,222.14 L124.44,221.16 L124.64,220.17 L124.84,219.19 L125.04,218.20 L125.24,217.21 L125.44,216.23 L125.64,215.24 L125.84,214.25 L126.04,213.27 L126.24,212.28 L126.44,211.29 L126.64,210.31 L126.84,209.32 L127.04,208.33 L127.24,207.35 L127.44,206.36 L127.64,205.37 L127.84,204.39 L128.04,203.40 L128.24,202.41 L128.44,201.43 L128.64,200.44 L128.84,199.46 L129.05,198.47 L129.25,197.49 L129.45,196.50 L129.66,195.52 L129.86,194.53 L130.06,193.55 L130.27,192.56 L130.47,191.58 L130.68,190.60 L130.88,189.61 L131.09,188.63 L131.30,187.65 L131.51,186.67 L131.72,185.69 L131.92,184.71 L132.13,183.73 L132.35,182.75 L132.56,181.77 L132.77,180.79 L132.98,179.81 L133.19,178.83 L133.41,177.85 L133.62,176.88 L133.84,175.90 L134.06,174.93 L134.28,173.95 L134.49,172.98 L134.71,172.01 L134.93,171.03 L135.16,170.06 L135.38,169.09 L135.60,168.12 L135.83,167.15 L136.05,166.18 L136.28,165.21 L136.51,164.25 L136.74,163.28 L136.97,162.31 L137.20,161.35 L137.43,160.38 L137.67,159.42 L137.90,158.46 L138.14,157.50 L138.37,156.54 L138.61,155.58 L138.85,154.62 L139.09,153.66 L139.34,152.70 L139.58,151.75 L139.83,150.79 L140.07,149.84 L140.32,148.88 L140.57,147.93 L140.82,146.97 L141.07,146.02 L141.32,145.06 L141.57,144.11 L141.83,143.16 L142.08,142.20 L142.34,141.25 L142.59,140.30 L142.85,139.35 L143.11,138.39 L143.37,137.44 L143.63,136.49 L143.90,135.54 L144.16,134.59 L144.43,133.63 L144.69,132.68 L144.96,131.73 L145.23,130.77 L145.49,129.82 L145.76,128.87 L146.04,127.91 L146.31,126.96 L146.58,126.00 L146.85,125.04 L147.13,124.09 L147.40,123.13 L147.68,122.17 L147.96,121.21 L148.24,120.26 L148.52,119.30 L148.80,118.34 L149.08,117.37 L149.36,116.41 L149.64,115.45 L149.93,114.48 L150.21,113.52 L150.50,112.55 L150.79,111.59 L151.07,110.62 L151.36,109.65 L151.65,108.68 L151.94,107.70 L152.23,106.73 L152.52,105.76 L152.82,104.78 L153.11,103.80 L153.40,102.82 L153.70,101.84 L154.00,100.86 L154.29,99.88 L154.59,98.89 L154.89,97.91 L155.19,96.92 L155.49,95.93 L155.80,94.95 L156.11,93.96 L156.42,92.97 L156.74,91.99 L157.06,91.01 L157.39,90.02 L157.72,89.05 L158.06,88.07 L158.41,87.10 L158.77,86.13 L159.13,85.16 L159.50,84.20 L159.88,83.24 L160.27,82.29 L160.67,81.35 L161.08,80.41 L161.50,79.47 L161.93,78.55 L162.38,77.63 L162.84,76.72 L163.31,75.81 L163.79,74.92 L164.29,74.03 L164.80,73.15 L165.33,72.28 L165.87,71.42 L166.43,70.58 L167.01,69.74 L167.60,68.91 L168.21,68.10 L168.84,67.31 L169.49,66.54 L170.15,65.80 L170.83,65.09 L171.52,64.42 L172.24,63.79 L172.97,63.20 L173.71,62.67 L174.48,62.20 L175.25,61.78 L176.05,61.43 L176.86,61.15 L177.69,60.95 L178.53,60.81 L179.39,60.75 L180.25,60.75 L181.13,60.82 L182.01,60.94 L182.89,61.12 L183.78,61.35 L184.67,61.63 L185.55,61.95 L186.43,62.32 L187.31,62.72 L188.18,63.16 L189.04,63.63 L189.88,64.13 L190.71,64.65 L191.53,65.20 L192.33,65.76 L193.11,66.35 L193.88,66.95 L194.63,67.57 L195.37,68.21 L196.09,68.87 L196.80,69.54 L197.49,70.23 L198.17,70.93 L198.84,71.65 L199.49,72.38 L200.13,73.13 L200.76,73.89 L201.37,74.67 L201.98,75.46 L202.57,76.26 L203.15,77.07 L203.72,77.89 L204.28,78.73 L204.83,79.57 L205.37,80.43 L205.91,81.29 L206.43,82.17 L206.95,83.05 L207.45,83.94 L207.95,84.84 L208.44,85.74 L208.93,86.65 L209.41,87.57 L209.88,88.49 L210.35,89.42 L210.81,90.36 L211.26,91.29 L211.71,92.23 L212.16,93.18 L212.60,94.12 L213.04,95.07 L213.48,96.02 L213.91,96.98 L214.34,97.93 L214.77,98.88 L215.19,99.84 L215.62,100.79 L216.04,101.74 L216.46,102.69 L216.88,103.64 L217.30,104.58 L217.73,105.53 L218.15,106.47 L218.57,107.40 L218.99,108.33 L219.42,109.26 L219.84,110.19 L220.27,111.12 L220.69,112.04 L221.12,112.96 L221.54,113.87 L221.97,114.78 L222.40,115.70 L222.82,116.60 L223.25,117.51 L223.68,118.42 L224.11,119.32 L224.54,120.22 L224.97,121.12 L225.40,122.01 L225.83,122.91 L226.26,123.80 L226.69,124.69 L227.13,125.58 L227.56,126.47 L227.99,127.35 L228.42,128.24 L228.86,129.12 L229.29,130.01 L229.73,130.89 L230.16,131.77 L230.60,132.65 L231.03,133.53 L231.47,134.41 L231.91,135.29 L232.35,136.17 L232.78,137.04 L233.22,137.92 L233.66,138.80 L234.10,139.67 L234.54,140.55 L234.98,141.42 L235.42,142.30 L235.86,143.18 L236.30,144.05 L236.74,144.93 L237.18,145.81 L237.63,146.68 L238.07,147.56 L238.51,148.44 L238.95,149.32 L239.40,150.20 L239.84,151.08 L240.29,151.96 L240.73,152.85 L241.18,153.73 L241.62,154.61 L242.07,155.50 L242.52,156.38 L242.96,157.27 L243.41,158.15 L243.86,159.04 L244.31,159.93 L244.76,160.82 L245.21,161.71 L245.66,162.59 L246.11,163.48 L246.56,164.37 L247.02,165.26 L247.47,166.15 L247.92,167.04 L248.38,167.94 L248.83,168.83 L249.29,169.72 L249.75,170.61 L250.21,171.50 L250.66,172.39 L251.12,173.28 L251.58,174.17 L252.04,175.07 L252.51,175.96 L252.97,176.85 L253.43,177.74 L253.90,178.63 L254.36,179.52 L254.83,180.41 L255.30,181.30 L255.77,182.19 L256.24,183.08 L256.71,183.97 L257.18,184.86 L257.65,185.75 L258.13,186.64 L258.60,187.53 L259.08,188.42 L259.55,189.30 L260.03,190.19 L260.51,191.08 L260.99,191.96 L261.47,192.85 L261.96,193.73 L262.44,194.61 L262.93,195.50 L263.41,196.38 L263.90,197.26 L264.39,198.14 L264.88,199.02 L265.37,199.90 L265.87,200.78 L266.36,201.65 L266.86,202.53 L267.35,203.40 L267.85,204.28 L268.35,205.15 L268.85,206.02 L269.36,206.89 L269.86,207.76 L270.37,208.63 L270.88,209.49 L271.39,210.36 L271.90,211.22 L272.41,212.09 L272.92,212.95 L273.44,213.81 L273.96,214.67 L274.48,215.53 L275.00,216.38 L275.52,217.24 L276.05,218.09 L276.58,218.94 L277.10,219.79 L277.64,220.64 L278.17,221.49 L278.70,222.33 L279.24,223.18 L279.78,224.02 L280.32,224.86 L280.87,225.70 L281.41,226.54 L281.96,227.37 L282.51,228.21 L283.06,229.04 L283.62,229.87 L284.17,230.70 L284.73,231.52 L285.29,232.35 L285.86,233.17 L286.43,233.99 L287.00,234.81 L287.57,235.62 L288.14,236.44 L288.72,237.25 L289.30,238.06 L289.88,238.87 L290.46,239.68 L291.05,240.48 L291.64,241.28 L292.23,242.08 L292.83,242.88 L293.43,243.67 L294.03,244.46 L294.63,245.25 L295.24,246.04 L295.85,246.83 L296.46,247.61 L297.08,248.39 L297.70,249.17 L298.32,249.94 L298.95,250.72 L299.58,251.49 L300.21,252.26 L300.84,253.02 L301.48,253.78 L302.12,254.54 L302.77,255.30 L303.41,256.05 L304.06,256.81 L304.72,257.56 L305.38,258.30 L306.04,259.05 L306.70,259.79 L307.37,260.52 L308.04,261.26 L308.72,261.99 L309.40,262.72 L310.08,263.45 L310.76,264.17 L311.45,264.89 L312.15,265.61 L312.84,266.32 L313.54,267.03 L314.25,267.74 L314.96,268.44 L315.67,269.14 L316.39,269.84 L317.11,270.54 L317.83,271.23 L318.56,271.92 L319.29,272.60 L320.02,273.28 L320.76,273.96 L321.51,274.64 L322.25,275.31 L323.00,275.98 L323.76,276.64 L324.52,277.30 L325.28,277.95 L326.04,278.61 L326.81,279.26 L327.58,279.90 L328.36,280.54 L329.14,281.18 L329.92,281.81 L330.70,282.44 L331.49,283.06 L332.29,283.68 L333.08,284.30 L333.88,284.91 L334.69,285.52 L335.49,286.12 L336.30,286.72 L337.11,287.31 L337.93,287.90 L338.75,288.49 L339.57,289.07 L340.40,289.64 L341.23,290.21 L342.06,290.78 L342.89,291.34 L343.73,291.90 L344.57,292.45 L345.42,293.00 L346.26,293.54 L347.12,294.07 L347.97,294.61 L348.82,295.13 L349.68,295.65 L350.55,296.17 L351.41,296.68 L352.28,297.18 L353.15,297.68 L354.02,298.18 L354.90,298.67 L355.78,299.15 L356.66,299.63 L357.54,300.10 L358.43,300.57 L359.32,301.03 L360.21,301.48 L361.11,301.93 L362.00,302.38 L362.90,302.81 L363.81,303.24 L364.71,303.67 L365.62,304.09 L366.53,304.50 L367.44,304.91 L368.36,305.31 L369.27,305.70 L370.19,306.09 L371.12,306.47 L372.04,306.85 L372.97,307.22 L373.90,307.58 L374.83,307.94 L375.76,308.29 L376.69,308.64 L377.63,308.98 L378.57,309.31 L379.51,309.64 L380.46,309.97 L381.40,310.28 L382.35,310.60 L383.30,310.90 L384.25,311.20 L385.20,311.50 L386.15,311.79 L387.11,312.08 L388.07,312.36 L389.03,312.64 L389.99,312.91 L390.95,313.17 L391.91,313.44 L392.88,313.69 L393.84,313.95 L394.81,314.20 L395.78,314.44 L396.75,314.68 L397.72,314.92 L398.69,315.15 L399.67,315.37 L400.64,315.60 L401.62,315.82 L402.60,316.03 L403.57,316.25 L404.55,316.45 L405.53,316.66 L406.51,316.86 L407.50,317.06 L408.48,317.25 L409.46,317.44 L410.45,317.63 L411.43,317.81 L412.42,317.99 L413.40,318.17 L414.39,318.35 L415.37,318.52 L416.36,318.69 L417.35,318.85 L418.34,319.02 L419.33,319.18 L420.32,319.34 L421.30,319.49 L422.29,319.65 L423.28,319.80 L424.27,319.95 L425.26,320.10 L426.25,320.24 L427.24,320.38 L428.24,320.52 L429.23,320.66 L430.22,320.80 L431.21,320.93 L432.20,321.06 L433.19,321.19 L434.18,321.32 L435.18,321.44 L436.17,321.56 L437.16,321.68 L438.15,321.80 L439.15,321.92 L440.14,322.03 L441.13,322.15 L442.13,322.26 L443.12,322.37 L444.11,322.47 L445.11,322.58 L446.10,322.68 L447.09,322.78 L448.09,322.88 L449.08,322.98 L450.08,323.07 L451.07,323.17 L452.07,323.26 L453.06,323.35 L454.06,323.43 L455.05,323.52 L456.05,323.61 L457.04,323.69 L458.04,323.77 L459.04,323.85 L460.03,323.93 L461.03,324.00 L462.03,324.08 L463.02,324.15 L464.02,324.22 L465.02,324.29 L466.01,324.36 L467.01,324.43 L468.01,324.49 L469.00,324.56 L470.00,324.62 L471.00,324.68 L472.00,324.74 L472.99,324.80 L473.99,324.85 L474.99,324.91 L475.99,324.96 L476.99,325.02 L477.98,325.07 L478.98,325.12 L479.98,325.17 L480.98,325.21 L481.98,325.26 L482.98,325.31 L483.98,325.35 L484.98,325.39 L485.98,325.43 L486.97,325.47 L487.97,325.51 L488.97,325.55 L489.97,325.59 L490.97,325.62 L491.97,325.66 L492.97,325.69 L493.97,325.72 L494.97,325.75 L495.97,325.79 L496.97,325.82 L497.97,325.84 L498.97,325.87 L499.97,325.90 L500.97,325.92 L501.97,325.95 L502.97,325.97 L503.97,326.00 L504.97,326.02 L505.97,326.04 L506.97,326.06 L507.97,326.08 L508.97,326.10 L509.98,326.12 L510.98,326.14 L511.98,326.16 L512.98,326.17 L513.98,326.19 L514.98,326.20 L515.98,326.22 L516.98,326.23 L517.98,326.25 L518.98,326.26 L519.98,326.27 L520.99,326.28 L521.99,326.29 L522.99,326.30 L523.99,326.31 L524.99,326.32 L525.99,326.33 L526.99,326.34 L527.99,326.35 L528.99,326.36 L529.99,326.37 L531.00,326.38 L532.00,326.38 L533.00,326.39 L534.00,326.40 L535.00,326.40 L536.00,326.41 L537.00,326.41 L538.00,326.42 L539.00,326.43 L540.01,326.43 L541.01,326.44 L542.01,326.44 L543.01,326.45 L544.01,326.45 L545.01,326.45 L546.01,326.46 L547.01,326.46 L548.01,326.47 L549.01,326.47 L550.02,326.48 L551.02,326.48 L552.02,326.49 L553.02,326.49 L554.02,326.50 L555.02,326.50 L556.02,326.50 L557.02,326.51 L558.02,326.52 L559.02,326.52 L560.02,326.53 L561.02,326.53 L562.02,326.54 L563.02,326.54 L564.02,326.55 L565.02,326.56 L566.02,326.56 L567.02,326.57 L568.02,326.58 L569.02,326.59 L570.02,326.60 L571.02,326.60 L572.02,326.61 L573.02,326.62 L574.02,326.63 L575.02,326.64 L576.02,326.65 L577.02,326.67 L578.02,326.68 L579.01,326.69 L580.01,326.70 L581.01,326.72 L582.01,326.73 L583.01,326.75 L584.01,326.76 L585.01,326.78 L586.00,326.80 L587.00,326.81 L588.00,326.83 L589.00,326.85" stroke="#1414b4" stroke-width="1.1" fill="none" stroke-dasharray="7.5 4 1.2 4" transform="translate(0.3,0.2)" clip-path="url(#cl)"/>
<rect x="88.6" y="8.5" width="500.4" height="371.5" fill="none" stroke="#000" stroke-width="1.3"/><path d="M88.60,380.0v-8.3M88.60,8.5v8.3M101.11,380.0v-4.2M101.11,8.5v4.2M113.62,380.0v-4.2M113.62,8.5v4.2M126.13,380.0v-4.2M126.13,8.5v4.2M138.64,380.0v-4.2M138.64,8.5v4.2M151.15,380.0v-4.2M151.15,8.5v4.2M163.66,380.0v-4.2M163.66,8.5v4.2M176.17,380.0v-4.2M176.17,8.5v4.2M188.68,380.0v-4.2M188.68,8.5v4.2M201.19,380.0v-4.2M201.19,8.5v4.2M213.70,380.0v-8.3M213.70,8.5v8.3M226.21,380.0v-4.2M226.21,8.5v4.2M238.72,380.0v-4.2M238.72,8.5v4.2M251.23,380.0v-4.2M251.23,8.5v4.2M263.74,380.0v-4.2M263.74,8.5v4.2M276.25,380.0v-4.2M276.25,8.5v4.2M288.76,380.0v-4.2M288.76,8.5v4.2M301.27,380.0v-4.2M301.27,8.5v4.2M313.78,380.0v-4.2M313.78,8.5v4.2M326.29,380.0v-4.2M326.29,8.5v4.2M338.80,380.0v-8.3M338.80,8.5v8.3M351.31,380.0v-4.2M351.31,8.5v4.2M363.82,380.0v-4.2M363.82,8.5v4.2M376.33,380.0v-4.2M376.33,8.5v4.2M388.84,380.0v-4.2M388.84,8.5v4.2M401.35,380.0v-4.2M401.35,8.5v4.2M413.86,380.0v-4.2M413.86,8.5v4.2M426.37,380.0v-4.2M426.37,8.5v4.2M438.88,380.0v-4.2M438.88,8.5v4.2M451.39,380.0v-4.2M451.39,8.5v4.2M463.90,380.0v-8.3M463.90,8.5v8.3M476.41,380.0v-4.2M476.41,8.5v4.2M488.92,380.0v-4.2M488.92,8.5v4.2M501.43,380.0v-4.2M501.43,8.5v4.2M513.94,380.0v-4.2M513.94,8.5v4.2M526.45,380.0v-4.2M526.45,8.5v4.2M538.96,380.0v-4.2M538.96,8.5v4.2M551.47,380.0v-4.2M551.47,8.5v4.2M563.98,380.0v-4.2M563.98,8.5v4.2M576.49,380.0v-4.2M576.49,8.5v4.2M589.00,380.0v-8.3M589.00,8.5v8.3M88.6,380.07h4.2M589.0,380.07h-4.2M88.6,353.54h4.2M589.0,353.54h-4.2M88.6,327.00h8.3M589.0,327.00h-8.3M88.6,300.46h4.2M589.0,300.46h-4.2M88.6,273.93h4.2M589.0,273.93h-4.2M88.6,247.39h4.2M589.0,247.39h-4.2M88.6,220.86h8.3M589.0,220.86h-8.3M88.6,194.32h4.2M589.0,194.32h-4.2M88.6,167.79h4.2M589.0,167.79h-4.2M88.6,141.25h4.2M589.0,141.25h-4.2M88.6,114.72h8.3M589.0,114.72h-8.3M88.6,88.18h4.2M589.0,88.18h-4.2M88.6,61.65h4.2M589.0,61.65h-4.2M88.6,35.11h4.2M589.0,35.11h-4.2M88.6,8.58h8.3M589.0,8.58h-8.3" stroke="#000" stroke-width="1.2" fill="none"/>
<g font-family="Liberation Serif, serif" fill="#000" ><text x="50.80" y="14.88" font-size="18.5" textLength="25.0" lengthAdjust="spacingAndGlyphs">0.6</text><text x="50.40" y="121.02" font-size="18.5" textLength="25.4" lengthAdjust="spacingAndGlyphs">0.4</text><text x="50.40" y="227.16" font-size="18.5" textLength="25.4" lengthAdjust="spacingAndGlyphs">0.2</text><text x="66.50" y="333.30" font-size="18.5" textLength="9.3" lengthAdjust="spacingAndGlyphs">0</text><text x="84.10" y="401.6" font-size="18.5" textLength="9.0" lengthAdjust="spacingAndGlyphs">0</text><text x="209.05" y="401.6" font-size="18.5" textLength="9.3" lengthAdjust="spacingAndGlyphs">5</text><text x="329.65" y="401.6" font-size="18.5" textLength="18.3" lengthAdjust="spacingAndGlyphs">10</text><text x="454.75" y="401.6" font-size="18.5" textLength="18.3" lengthAdjust="spacingAndGlyphs">15</text><text x="579.20" y="401.6" font-size="18.5" textLength="19.6" lengthAdjust="spacingAndGlyphs">20</text><text x="298.95" y="431.00" text-anchor="middle" font-size="19.5" transform="translate(298.95,0) scale(1.25,1) translate(-298.95,0)" >r</text><text x="315.75" y="431.00" text-anchor="middle" font-size="19.5" >(</text><text x="322.75" y="431.00" text-anchor="middle" font-size="19.5" transform="translate(322.75,0) scale(1.2,1) translate(-322.75,0)" >f</text><text x="334.60" y="431.00" text-anchor="middle" font-size="19.5" transform="translate(334.60,0) scale(1.12,1) translate(-334.60,0)" >m</text><text x="347.05" y="431.00" text-anchor="middle" font-size="19.5" >)</text><text x="451.8" y="69.7" font-size="18.3" textLength="80" lengthAdjust="spacingAndGlyphs">Gaussian</text><text x="451.9" y="95.8" font-size="18.3" textLength="124.3" lengthAdjust="spacingAndGlyphs">WS(a=0.40fm)</text><text x="451.9" y="122.5" font-size="18.3" textLength="123.6" lengthAdjust="spacingAndGlyphs">homogeneous</text><g transform="translate(20.3,254.6) rotate(-90)"><text x="4.65" y="0" text-anchor="middle" font-size="19.5" transform="translate(4.65,0) scale(1.35,1) translate(-4.65,0)">r</text><text x="16.05" y="0" text-anchor="middle" font-size="19.5" font-style="italic">ψ</text><text x="25.25" y="0" text-anchor="middle" font-size="19.5">(</text><text x="32.80" y="0" text-anchor="middle" font-size="19.5" transform="translate(32.80,0) scale(1.3,1) translate(-32.80,0)">r</text><text x="40.10" y="0" text-anchor="middle" font-size="19.5">)</text><text x="57.55" y="0" text-anchor="middle" font-size="19.5">(</text><text x="65.30" y="0" text-anchor="middle" font-size="19.5" transform="translate(65.30,0) scale(1.15,1) translate(-65.30,0)">f</text><text x="77.15" y="0" text-anchor="middle" font-size="19.5" transform="translate(77.15,0) scale(1.07,1) translate(-77.15,0)">m</text><text x="90.85" y="-9.7" text-anchor="middle" font-size="13.5">−</text><text x="99.80" y="-9.7" text-anchor="middle" font-size="13.5">1</text><text x="117.00" y="-9.7" text-anchor="middle" font-size="13.5">2</text><path d="M104.4,-7.3L113.6,-20.6" stroke="#000" stroke-width="1.1" fill="none"/><text x="124.4" y="0" text-anchor="middle" font-size="19.5">)</text></g></g><path d="M401,61.7h41.5" stroke="#000" stroke-width="1.15" stroke-dasharray="9.3 6.6" fill="none"/><path d="M400.8,88.2h44.4" stroke="#000" stroke-width="1.2" fill="none"/><path d="M401,114.7h41.5" stroke="#000" stroke-width="1.15" stroke-dasharray="7.5 3.8 1.3 3.8" fill="none"/><g fill="#9a9a9a" font-family="Liberation Serif, serif"><text x="159.3" y="26.7" font-size="14.3">9</text><text x="167.0" y="35.7" font-size="18.6">B</text><text x="178.3" y="41.9" font-size="13.8">X</text></g><g fill="#1c1cb8" font-family="Liberation Serif, serif"><text x="207.0" y="70.1" font-size="13.1">9</text><text x="214.5" y="78.0" font-size="18">B</text><text x="225.2" y="85.2" font-size="15">X</text><text x="234.3" y="68.9" font-size="11.5">*</text><text x="240.8" y="70.0" font-size="13.5" textLength="7.8" lengthAdjust="spacingAndGlyphs">a</text></g>
</svg>
</body></html>
